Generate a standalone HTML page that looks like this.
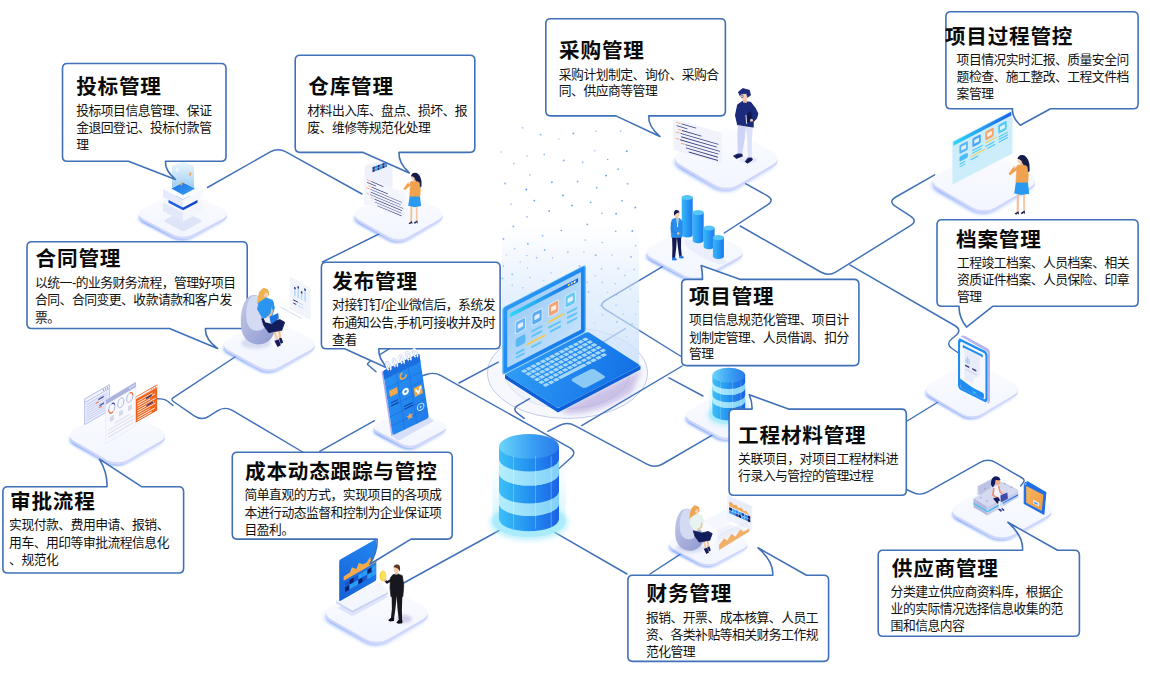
<!DOCTYPE html>
<html lang="zh-CN"><head><meta charset="utf-8"><title>项目管理系统功能总览</title><style>
html,body{margin:0;padding:0;background:#fff}
body{width:1150px;height:679px;overflow:hidden;position:relative;font-family:"Liberation Sans","Noto Sans CJK SC",sans-serif}
svg{position:absolute;left:0;top:0;display:block}
.t{font-family:"Liberation Sans","Noto Sans CJK SC",sans-serif;font-weight:700;font-size:20.6px;letter-spacing:.8px;fill:#0a0a0a}
.b{font-family:"Liberation Sans","Noto Sans CJK SC",sans-serif;font-weight:400;font-size:12.8px;letter-spacing:-.5px;fill:#111}
</style></head>
<body>
<svg width="1150" height="679" viewBox="0 0 1150 679">
<defs>
<filter id="blur3" x="-20%" y="-20%" width="140%" height="160%"><feGaussianBlur stdDeviation="2.2"/></filter>
<filter id="blur6" x="-30%" y="-30%" width="160%" height="160%"><feGaussianBlur stdDeviation="5"/></filter>
<filter id="blurp" x="-1" y="-1" width="4" height="4"><feGaussianBlur stdDeviation=".06"/></filter>
<linearGradient id="gglow" x1="0" y1="1" x2="1" y2="0"><stop offset="0" stop-color="#3f7df7" stop-opacity=".75"/><stop offset=".5" stop-color="#4f86f7" stop-opacity=".55"/><stop offset="1" stop-color="#6f95f7" stop-opacity=".25"/></linearGradient>
<linearGradient id="gtop" x1="0" y1="0" x2="1" y2="1"><stop offset="0" stop-color="#fbfcff"/><stop offset="1" stop-color="#f1f5fe"/></linearGradient>
<linearGradient id="gside" x1="0" y1="0" x2="1" y2="1"><stop offset="0" stop-color="#c6cdf8"/><stop offset="1" stop-color="#d3d9fb"/></linearGradient>
<filter id="blur2" x="-30%" y="-30%" width="160%" height="160%"><feGaussianBlur stdDeviation="2.5"/></filter>
<linearGradient id="gbeam" gradientUnits="userSpaceOnUse" x1="0" y1="225" x2="0" y2="400"><stop offset="0" stop-color="#d6e7fc" stop-opacity="0"/><stop offset=".35" stop-color="#d6e7fc" stop-opacity=".55"/><stop offset="1" stop-color="#c6defb" stop-opacity=".95"/></linearGradient>
<linearGradient id="gbase" x1="0" y1="0" x2="1" y2="1"><stop offset="0" stop-color="#2f9cf6"/><stop offset="1" stop-color="#1270e6"/></linearGradient>
<linearGradient id="glid" x1="0" y1="0" x2="1" y2="1"><stop offset="0" stop-color="#2a9af6"/><stop offset="1" stop-color="#1478ea"/></linearGradient>
<linearGradient id="gscreen" x1="0" y1="0" x2="1" y2="1"><stop offset="0" stop-color="#9ccbf7"/><stop offset="1" stop-color="#c2e1fb"/></linearGradient>
<linearGradient id="gdbs" x1="0" y1="0" x2="1" y2="0"><stop offset="0" stop-color="#3cc0f8"/><stop offset=".5" stop-color="#2392f0"/><stop offset="1" stop-color="#1c62e6"/></linearGradient>
<linearGradient id="gdbt" x1="0" y1="0" x2="1" y2="0"><stop offset="0" stop-color="#6ad6fb"/><stop offset=".55" stop-color="#3a9ff3"/><stop offset="1" stop-color="#2a7bea"/></linearGradient>
<linearGradient id="gdbg" x1="0" y1="0" x2="1" y2="0"><stop offset="0" stop-color="#b4eefd"/><stop offset="1" stop-color="#7fd0f9"/></linearGradient>
<linearGradient id="gglass" x1="0" y1="0" x2="0" y2="1"><stop offset="0" stop-color="#bff0fd" stop-opacity="0"/><stop offset="1" stop-color="#a5eafc" stop-opacity=".6"/></linearGradient>
<filter id="blur1" x="-30%" y="-30%" width="160%" height="160%"><feGaussianBlur stdDeviation="1.5"/></filter>
<linearGradient id="gmon" x1="0" y1="1" x2="1" y2="0"><stop offset="0" stop-color="#1560d6"/><stop offset="1" stop-color="#2486f0"/></linearGradient>
<linearGradient id="gnote" x1="0" y1="0" x2="1" y2="1"><stop offset="0" stop-color="#2a92f4"/><stop offset="1" stop-color="#1f7deb"/></linearGradient><linearGradient id="gbar" x1="0" y1="0" x2="1" y2="0"><stop offset="0" stop-color="#38b8f8"/><stop offset="1" stop-color="#187af0"/></linearGradient><linearGradient id="gp4bar" x1="0" y1="0" x2="1" y2="0"><stop offset="0" stop-color="#2fd6f6"/><stop offset="1" stop-color="#1b62e8"/></linearGradient><linearGradient id="gbean" x1="0" y1="0" x2="1" y2="1"><stop offset="0" stop-color="#c3cae9"/><stop offset="1" stop-color="#8e98cf"/></linearGradient><linearGradient id="gstripe" x1="0" y1="0" x2="1" y2="0"><stop offset="0" stop-color="#35c8f2"/><stop offset="1" stop-color="#2563e6"/></linearGradient>
<linearGradient id="gorange" x1="0" y1="0" x2="1" y2="1"><stop offset="0" stop-color="#f7b661"/><stop offset="1" stop-color="#ef9a45"/></linearGradient>
<linearGradient id="gp1" x1="0" y1="0" x2="1" y2="1"><stop offset="0" stop-color="#1a6fe6"/><stop offset="1" stop-color="#3aa0f4"/></linearGradient>
<linearGradient id="gholo" x1="0" y1="0" x2="0" y2="1"><stop offset="0" stop-color="#d9ecfb" stop-opacity=".55"/><stop offset="1" stop-color="#8cc6f2" stop-opacity=".9"/></linearGradient>
</defs>
<g id="bg"><g fill="#4d92ec"><circle cx="563.0" cy="195.4" r="0.9" opacity="0.95"/><circle cx="627.6" cy="183.7" r="1.0" opacity="0.60"/><circle cx="526.3" cy="189.5" r="0.9" opacity="0.95"/><circle cx="587.3" cy="224.3" r="0.9" opacity="0.80"/><circle cx="513.9" cy="163.6" r="0.8" opacity="0.67"/><circle cx="513.4" cy="226.4" r="1.0" opacity="0.67"/><circle cx="596.0" cy="131.2" r="0.8" opacity="0.59"/><circle cx="635.6" cy="245.6" r="0.8" opacity="0.71"/><circle cx="590.6" cy="202.3" r="0.9" opacity="0.80"/><circle cx="522.6" cy="127.9" r="0.8" opacity="0.58"/><circle cx="573.4" cy="133.4" r="0.9" opacity="0.85"/><circle cx="527.1" cy="156.0" r="0.7" opacity="0.63"/><circle cx="505.1" cy="183.5" r="1.0" opacity="0.61"/><circle cx="561.4" cy="230.5" r="0.8" opacity="1.00"/><circle cx="572.1" cy="205.4" r="1.0" opacity="0.77"/><circle cx="563.7" cy="160.5" r="1.0" opacity="0.71"/><circle cx="616.1" cy="213.8" r="1.0" opacity="0.80"/><circle cx="544.2" cy="154.5" r="0.8" opacity="0.80"/><circle cx="540.6" cy="134.7" r="0.9" opacity="0.67"/><circle cx="606.0" cy="175.6" r="0.9" opacity="0.94"/><circle cx="632.3" cy="231.1" r="1.0" opacity="0.81"/><circle cx="501.1" cy="152.0" r="0.7" opacity="0.63"/><circle cx="511.0" cy="204.1" r="0.7" opacity="0.98"/><circle cx="607.7" cy="159.5" r="0.7" opacity="0.85"/><circle cx="577.6" cy="181.5" r="0.9" opacity="0.71"/><circle cx="527.1" cy="216.8" r="0.9" opacity="0.58"/><circle cx="542.7" cy="235.7" r="1.0" opacity="0.55"/><circle cx="529.9" cy="174.9" r="0.8" opacity="0.58"/><circle cx="514.7" cy="248.7" r="0.9" opacity="0.55"/><circle cx="534.3" cy="200.6" r="0.9" opacity="0.91"/><circle cx="551.9" cy="182.2" r="1.0" opacity="0.73"/><circle cx="602.3" cy="242.6" r="0.7" opacity="0.97"/><circle cx="527.9" cy="243.8" r="1.0" opacity="0.73"/><circle cx="621.9" cy="200.8" r="1.0" opacity="0.66"/><circle cx="558.7" cy="138.9" r="0.7" opacity="0.55"/><circle cx="582.7" cy="162.4" r="0.8" opacity="0.65"/><circle cx="626.7" cy="151.3" r="1.0" opacity="0.88"/><circle cx="635.3" cy="207.5" r="0.9" opacity="0.91"/><circle cx="503.5" cy="238.9" r="0.9" opacity="0.83"/><circle cx="544.7" cy="249.9" r="1.0" opacity="0.71"/><circle cx="602.0" cy="213.3" r="0.9" opacity="0.58"/><circle cx="549.2" cy="211.0" r="0.9" opacity="0.82"/><circle cx="596.7" cy="187.7" r="0.9" opacity="0.70"/><circle cx="585.2" cy="240.1" r="0.8" opacity="0.65"/><circle cx="615.7" cy="231.2" r="0.8" opacity="0.80"/><circle cx="620.6" cy="131.1" r="0.8" opacity="0.63"/><circle cx="594.8" cy="150.7" r="0.7" opacity="0.62"/><circle cx="618.2" cy="169.2" r="0.9" opacity="0.71"/><circle cx="512.3" cy="285.3" r="1.0" opacity="0.56"/><circle cx="576.4" cy="311.5" r="1.0" opacity="0.78"/><circle cx="567.8" cy="252.3" r="1.0" opacity="0.59"/><circle cx="611.9" cy="255.1" r="0.8" opacity="0.56"/><circle cx="546.9" cy="313.0" r="0.8" opacity="0.69"/><circle cx="520.2" cy="261.9" r="0.7" opacity="0.81"/><circle cx="616.1" cy="305.1" r="0.9" opacity="0.74"/><circle cx="630.6" cy="289.4" r="0.8" opacity="0.77"/><circle cx="631.0" cy="256.9" r="0.8" opacity="0.92"/><circle cx="531.3" cy="292.1" r="0.7" opacity="0.85"/><circle cx="588.5" cy="291.8" r="0.9" opacity="0.95"/><circle cx="616.6" cy="294.8" r="0.9" opacity="0.79"/><circle cx="543.7" cy="280.5" r="0.7" opacity="0.62"/><circle cx="616.8" cy="322.0" r="1.0" opacity="0.96"/><circle cx="529.5" cy="318.1" r="0.7" opacity="0.65"/><circle cx="579.5" cy="266.1" r="0.9" opacity="0.95"/><circle cx="574.4" cy="290.3" r="1.0" opacity="0.78"/><circle cx="583.9" cy="252.2" r="0.7" opacity="0.60"/><circle cx="555.9" cy="314.1" r="1.0" opacity="0.75"/><circle cx="595.7" cy="255.3" r="1.0" opacity="0.74"/><circle cx="632.1" cy="323.9" r="1.0" opacity="0.78"/><circle cx="566.3" cy="275.4" r="1.0" opacity="0.82"/><circle cx="527.6" cy="268.2" r="0.7" opacity="0.78"/><circle cx="595.1" cy="275.8" r="0.7" opacity="0.79"/><circle cx="549.7" cy="299.6" r="1.0" opacity="0.75"/><circle cx="515.4" cy="308.5" r="0.7" opacity="0.82"/><circle cx="552.5" cy="283.1" r="0.9" opacity="0.62"/><circle cx="618.4" cy="268.6" r="1.0" opacity="0.70"/><circle cx="602.5" cy="314.8" r="0.9" opacity="0.88"/><circle cx="624.7" cy="275.3" r="0.9" opacity="0.63"/><circle cx="544.2" cy="323.8" r="1.0" opacity="1.00"/><circle cx="530.9" cy="329.9" r="1.0" opacity="0.57"/><circle cx="533.8" cy="308.1" r="0.8" opacity="0.89"/><circle cx="536.6" cy="257.8" r="1.0" opacity="0.60"/><circle cx="615.0" cy="283.7" r="0.8" opacity="0.93"/><circle cx="503.4" cy="266.1" r="0.8" opacity="0.92"/><circle cx="594.5" cy="322.9" r="0.7" opacity="0.78"/><circle cx="569.9" cy="304.9" r="0.9" opacity="0.58"/><circle cx="526.9" cy="255.6" r="0.7" opacity="0.87"/><circle cx="509.5" cy="326.1" r="0.9" opacity="0.78"/><circle cx="602.3" cy="282.4" r="0.9" opacity="0.75"/><circle cx="623.4" cy="314.1" r="0.7" opacity="0.94"/><circle cx="587.2" cy="282.4" r="0.8" opacity="0.77"/><circle cx="635.6" cy="314.4" r="0.8" opacity="0.58"/><circle cx="502.5" cy="278.5" r="1.0" opacity="0.90"/><circle cx="574.0" cy="281.2" r="1.0" opacity="0.94"/><circle cx="638.0" cy="301.4" r="0.7" opacity="0.91"/><circle cx="585.3" cy="309.1" r="0.7" opacity="0.90"/><circle cx="552.5" cy="257.9" r="0.7" opacity="0.91"/><circle cx="522.9" cy="287.7" r="0.8" opacity="0.92"/><circle cx="551.1" cy="272.9" r="0.8" opacity="0.60"/><circle cx="634.3" cy="269.5" r="0.7" opacity="0.97"/><circle cx="572.7" cy="325.0" r="0.8" opacity="0.93"/><circle cx="607.6" cy="292.5" r="0.7" opacity="0.74"/><circle cx="601.6" cy="269.1" r="1.0" opacity="0.56"/><circle cx="582.1" cy="300.6" r="1.0" opacity="0.96"/><circle cx="506.4" cy="254.9" r="0.7" opacity="0.59"/><circle cx="529.9" cy="277.5" r="0.8" opacity="0.79"/><circle cx="512.2" cy="274.3" r="0.9" opacity="0.94"/><circle cx="600.3" cy="305.5" r="0.8" opacity="0.80"/><circle cx="539.8" cy="340.7" r="1.0" opacity="0.72"/><circle cx="550.0" cy="384.4" r="0.9" opacity="0.86"/><circle cx="551.2" cy="338.8" r="0.9" opacity="0.85"/><circle cx="598.2" cy="372.7" r="0.8" opacity="0.86"/><circle cx="626.1" cy="362.8" r="0.8" opacity="0.89"/><circle cx="611.0" cy="352.9" r="0.8" opacity="0.86"/><circle cx="544.5" cy="360.0" r="1.0" opacity="0.57"/><circle cx="535.0" cy="357.1" r="0.9" opacity="0.60"/><circle cx="555.2" cy="359.1" r="0.9" opacity="0.82"/><circle cx="527.7" cy="372.3" r="0.9" opacity="0.69"/><circle cx="610.2" cy="370.5" r="0.7" opacity="1.00"/><circle cx="525.2" cy="386.9" r="0.8" opacity="0.88"/><circle cx="621.7" cy="351.1" r="0.9" opacity="0.94"/><circle cx="504.0" cy="368.7" r="1.0" opacity="0.64"/><circle cx="575.5" cy="372.6" r="0.7" opacity="0.83"/><circle cx="611.2" cy="334.8" r="1.0" opacity="0.72"/><circle cx="575.9" cy="389.1" r="1.0" opacity="0.68"/><circle cx="512.5" cy="336.1" r="0.8" opacity="0.78"/><circle cx="512.6" cy="377.6" r="0.7" opacity="0.71"/><circle cx="589.9" cy="348.4" r="1.0" opacity="0.66"/><circle cx="599.8" cy="383.1" r="0.7" opacity="0.68"/><circle cx="610.9" cy="361.6" r="0.9" opacity="0.98"/><circle cx="541.0" cy="402.7" r="0.7" opacity="0.85"/><circle cx="509.1" cy="353.1" r="1.0" opacity="0.65"/><circle cx="607.3" cy="343.5" r="1.0" opacity="0.72"/><circle cx="526.3" cy="346.3" r="1.0" opacity="0.82"/><circle cx="533.3" cy="383.8" r="1.0" opacity="0.84"/><circle cx="543.7" cy="371.1" r="0.9" opacity="0.74"/><circle cx="567.1" cy="346.6" r="0.9" opacity="0.81"/><circle cx="507.8" cy="401.1" r="0.9" opacity="0.68"/><circle cx="545.1" cy="349.5" r="0.7" opacity="0.85"/><circle cx="620.1" cy="368.7" r="0.8" opacity="0.56"/><circle cx="501.2" cy="391.6" r="0.9" opacity="0.61"/><circle cx="599.2" cy="337.3" r="0.9" opacity="0.72"/><circle cx="566.8" cy="365.1" r="0.9" opacity="0.70"/><circle cx="626.6" cy="336.8" r="0.7" opacity="0.80"/><circle cx="565.0" cy="383.6" r="0.7" opacity="0.75"/><circle cx="515.5" cy="359.6" r="0.8" opacity="0.59"/><circle cx="564.3" cy="402.5" r="0.9" opacity="0.56"/><circle cx="502.7" cy="358.3" r="0.7" opacity="0.88"/><circle cx="598.3" cy="347.8" r="0.9" opacity="1.00"/><circle cx="578.3" cy="364.4" r="0.7" opacity="0.85"/><circle cx="552.5" cy="370.5" r="0.8" opacity="0.76"/><circle cx="525.6" cy="360.2" r="0.9" opacity="0.63"/><circle cx="557.5" cy="331.2" r="0.9" opacity="0.77"/><circle cx="528.0" cy="400.9" r="0.7" opacity="0.99"/><circle cx="518.0" cy="403.0" r="0.7" opacity="1.00"/><circle cx="577.8" cy="349.8" r="1.0" opacity="0.75"/><circle cx="517.8" cy="391.8" r="0.8" opacity="0.84"/><circle cx="576.1" cy="335.7" r="0.7" opacity="1.00"/><circle cx="505.4" cy="343.5" r="0.7" opacity="1.00"/><circle cx="588.9" cy="332.8" r="1.0" opacity="0.91"/><circle cx="586.5" cy="381.7" r="0.8" opacity="0.78"/><circle cx="558.7" cy="390.4" r="0.8" opacity="0.77"/><circle cx="518.0" cy="370.3" r="0.8" opacity="0.78"/><circle cx="538.9" cy="378.0" r="0.7" opacity="0.88"/><circle cx="636.3" cy="332.5" r="0.7" opacity="0.55"/><circle cx="553.7" cy="399.7" r="0.9" opacity="0.85"/><circle cx="521.0" cy="353.3" r="1.0" opacity="0.90"/><circle cx="586.1" cy="369.4" r="0.7" opacity="0.74"/><circle cx="636.1" cy="340.8" r="0.8" opacity="0.56"/><circle cx="595.7" cy="357.2" r="0.9" opacity="0.98"/><circle cx="555.0" cy="347.9" r="0.7" opacity="0.60"/><circle cx="504.4" cy="377.3" r="1.0" opacity="0.79"/><circle cx="634.7" cy="352.4" r="0.7" opacity="0.90"/><circle cx="538.8" cy="392.2" r="0.7" opacity="0.69"/><circle cx="535.8" cy="368.1" r="0.7" opacity="0.58"/><circle cx="587.5" cy="359.8" r="0.8" opacity="0.61"/><circle cx="546.2" cy="332.0" r="0.7" opacity="0.78"/><circle cx="525.0" cy="338.0" r="0.9" opacity="0.68"/></g><ellipse cx="567.5" cy="373" rx="80" ry="45.5" fill="#f6f8fe" stroke="#c3cde6" stroke-width="1"/><ellipse cx="567.5" cy="374" rx="62" ry="34.5" fill="#f0f3fc" stroke="#d3daee" stroke-width=".8"/></g>
<g id="lines"><path d="M207.5 187.5L270.2 151.9Q278.0 147.5 285.9 151.9L362.0 194.0" fill="none" stroke="#4071b8" stroke-width="1.45" stroke-linejoin="round" stroke-linecap="round"/>
<path d="M385.0 231.0L322.5 262.0" fill="none" stroke="#4071b8" stroke-width="1.45" stroke-linejoin="round" stroke-linecap="round"/>
<path d="M238.0 355.0L173.4 397.6Q170.5 399.5 173.4 401.5L194.2 415.9Q201.6 421.0 209.2 416.1L217.4 410.9Q225.0 406.0 232.7 410.6L302.6 452.0" fill="none" stroke="#4071b8" stroke-width="1.45" stroke-linejoin="round" stroke-linecap="round"/>
<path d="M157.0 398.8L161.0 398.9Q165.0 399.0 168.1 401.5L173.0 405.5" fill="none" stroke="#4071b8" stroke-width="1.45" stroke-linejoin="round" stroke-linecap="round"/>
<path d="M374.5 420.7L319.7 451.4" fill="none" stroke="#4071b8" stroke-width="1.45" stroke-linejoin="round" stroke-linecap="round"/>
<path d="M420.0 376.5L427.2 374.2Q434.5 372.0 441.1 375.7L569.6 447.6Q577.5 452.0 570.8 458.0L558.5 469.0" fill="none" stroke="#4071b8" stroke-width="1.45" stroke-linejoin="round" stroke-linecap="round"/>
<path d="M459.0 383.0L498.3 362.2" fill="none" stroke="#4071b8" stroke-width="1.45" stroke-linejoin="round" stroke-linecap="round"/>
<path d="M529.6 398.7L518.4 405.1Q511.5 409.0 517.9 413.6L524.3 418.3" fill="none" stroke="#4071b8" stroke-width="1.45" stroke-linejoin="round" stroke-linecap="round"/>
<path d="M547.8 431.3L559.4 425.5Q567.4 421.5 575.3 425.8L646.9 464.2Q654.8 468.5 662.6 464.0L712.2 435.2" fill="none" stroke="#4071b8" stroke-width="1.45" stroke-linejoin="round" stroke-linecap="round"/>
<path d="M581.7 425.6L682.2 366.0" fill="none" stroke="#4071b8" stroke-width="1.45" stroke-linejoin="round" stroke-linecap="round"/>
<path d="M669.0 377.8L703.0 396.0" fill="none" stroke="#4071b8" stroke-width="1.45" stroke-linejoin="round" stroke-linecap="round"/>
<path d="M662.5 266.6L605.7 300.4Q598.0 305.0 605.7 309.7L682.0 357.0" fill="none" stroke="#4071b8" stroke-width="1.45" stroke-linejoin="round" stroke-linecap="round"/>
<path d="M625.4 328.5L602.4 342.6" fill="none" stroke="#4071b8" stroke-width="1.45" stroke-linejoin="round" stroke-linecap="round"/>
<path d="M745.5 183.6L767.1 195.6Q775.0 200.0 767.5 204.9L724.3 233.0" fill="none" stroke="#4071b8" stroke-width="1.45" stroke-linejoin="round" stroke-linecap="round"/>
<path d="M740.2 226.0L820.7 272.0Q828.5 276.5 836.1 271.8L910.4 225.7Q918.0 221.0 910.5 216.1L895.5 206.4Q888.0 201.5 895.8 197.0L934.6 174.8" fill="none" stroke="#4071b8" stroke-width="1.45" stroke-linejoin="round" stroke-linecap="round"/>
<path d="M849.8 264.9L954.7 325.5Q962.5 330.0 955.6 335.7L951.6 339.0Q945.5 344.0 952.0 348.5L958.5 353.0" fill="none" stroke="#4071b8" stroke-width="1.45" stroke-linejoin="round" stroke-linecap="round"/>
<path d="M937.3 402.5L905.5 422.0" fill="none" stroke="#4071b8" stroke-width="1.45" stroke-linejoin="round" stroke-linecap="round"/>
<path d="M905.5 489.0L913.0 492.5Q920.5 496.0 927.7 491.9L980.2 462.4Q988.0 458.0 995.8 462.6L1022.2 478.0Q1025.5 480.0 1023.0 483.0L1020.6 486.0" fill="none" stroke="#4071b8" stroke-width="1.45" stroke-linejoin="round" stroke-linecap="round"/>
<path d="M500.0 530.0L400.0 585.0" fill="none" stroke="#4071b8" stroke-width="1.45" stroke-linejoin="round" stroke-linecap="round"/>
<path d="M550.0 529.6L627.0 574.0" fill="none" stroke="#4071b8" stroke-width="1.45" stroke-linejoin="round" stroke-linecap="round"/>
<path d="M682.7 552.6L650.0 574.0" fill="none" stroke="#4071b8" stroke-width="1.45" stroke-linejoin="round" stroke-linecap="round"/>
<path d="M389.0 348.9L380.7 354.2" fill="none" stroke="#4071b8" stroke-width="1.45" stroke-linejoin="round" stroke-linecap="round"/>
<path d="M370.7 360.6L367.8 363.5Q367.1 364.2 367.9 364.8L376.0 371.8" fill="none" stroke="#4071b8" stroke-width="1.45" stroke-linejoin="round" stroke-linecap="round"/></g>
<g id="plats"><g><rect x="-1" y="-1" width="2" height="2" rx="0.38" transform="matrix(24.01 12.55 -24.01 12.55 182.0 218.5)" fill="url(#gglow)" filter="url(#blurp)"/><rect x="-1" y="-1" width="2" height="2" rx="0.38" transform="matrix(24.76 12.94 -24.76 12.94 183.0 216.3)" fill="url(#gside)"/><rect x="-1" y="-1" width="2" height="2" rx="0.38" transform="matrix(24.76 12.94 -24.76 12.94 183.0 213.8)" fill="url(#gtop)"/></g><g><rect x="-1" y="-1" width="2" height="2" rx="0.38" transform="matrix(24.01 13.64 -24.01 13.64 397.7 219.0)" fill="url(#gglow)" filter="url(#blurp)"/><rect x="-1" y="-1" width="2" height="2" rx="0.38" transform="matrix(24.76 14.07 -24.76 14.07 398.7 216.8)" fill="url(#gside)"/><rect x="-1" y="-1" width="2" height="2" rx="0.38" transform="matrix(24.76 14.07 -24.76 14.07 398.7 214.3)" fill="url(#gtop)"/></g><g><rect x="-1" y="-1" width="2" height="2" rx="0.38" transform="matrix(27.83 16.10 -27.83 16.10 725.5 163.0)" fill="url(#gglow)" filter="url(#blurp)"/><rect x="-1" y="-1" width="2" height="2" rx="0.38" transform="matrix(28.69 16.60 -28.69 16.60 726.5 160.8)" fill="url(#gside)"/><rect x="-1" y="-1" width="2" height="2" rx="0.38" transform="matrix(28.69 16.60 -28.69 16.60 726.5 158.3)" fill="url(#gtop)"/></g><g><rect x="-1" y="-1" width="2" height="2" rx="0.38" transform="matrix(27.83 16.10 -27.83 16.10 983.0 185.5)" fill="url(#gglow)" filter="url(#blurp)"/><rect x="-1" y="-1" width="2" height="2" rx="0.38" transform="matrix(28.69 16.60 -28.69 16.60 984.0 183.3)" fill="url(#gside)"/><rect x="-1" y="-1" width="2" height="2" rx="0.38" transform="matrix(28.69 16.60 -28.69 16.60 984.0 180.8)" fill="url(#gtop)"/></g><g><rect x="-1" y="-1" width="2" height="2" rx="0.38" transform="matrix(24.83 13.64 -24.83 13.64 268.3 349.0)" fill="url(#gglow)" filter="url(#blurp)"/><rect x="-1" y="-1" width="2" height="2" rx="0.38" transform="matrix(25.60 14.07 -25.60 14.07 269.3 346.8)" fill="url(#gside)"/><rect x="-1" y="-1" width="2" height="2" rx="0.38" transform="matrix(25.60 14.07 -25.60 14.07 269.3 344.3)" fill="url(#gtop)"/></g><g><rect x="-1" y="-1" width="2" height="2" rx="0.38" transform="matrix(19.65 10.37 -19.65 10.37 409.0 431.5)" fill="url(#gglow)" filter="url(#blurp)"/><rect x="-1" y="-1" width="2" height="2" rx="0.38" transform="matrix(20.26 10.69 -20.26 10.69 410.0 429.3)" fill="url(#gside)"/><rect x="-1" y="-1" width="2" height="2" rx="0.38" transform="matrix(20.26 10.69 -20.26 10.69 410.0 426.8)" fill="url(#gtop)"/></g><g><rect x="-1" y="-1" width="2" height="2" rx="0.38" transform="matrix(26.20 14.19 -26.20 14.19 693.7 256.5)" fill="url(#gglow)" filter="url(#blurp)"/><rect x="-1" y="-1" width="2" height="2" rx="0.38" transform="matrix(27.01 14.63 -27.01 14.63 694.7 254.3)" fill="url(#gside)"/><rect x="-1" y="-1" width="2" height="2" rx="0.38" transform="matrix(27.01 14.63 -27.01 14.63 694.7 251.8)" fill="url(#gtop)"/></g><g><rect x="-1" y="-1" width="2" height="2" rx="0.38" transform="matrix(25.11 14.74 -25.11 14.74 971.0 393.4)" fill="url(#gglow)" filter="url(#blurp)"/><rect x="-1" y="-1" width="2" height="2" rx="0.38" transform="matrix(25.88 15.19 -25.88 15.19 972.0 391.2)" fill="url(#gside)"/><rect x="-1" y="-1" width="2" height="2" rx="0.38" transform="matrix(25.88 15.19 -25.88 15.19 972.0 389.3)" fill="url(#gtop)"/></g><g><rect x="-1" y="-1" width="2" height="2" rx="0.38" transform="matrix(25.92 14.74 -25.92 14.74 116.5 440.0)" fill="url(#gglow)" filter="url(#blurp)"/><rect x="-1" y="-1" width="2" height="2" rx="0.38" transform="matrix(26.73 15.19 -26.73 15.19 117.5 437.8)" fill="url(#gside)"/><rect x="-1" y="-1" width="2" height="2" rx="0.38" transform="matrix(26.73 15.19 -26.73 15.19 117.5 435.3)" fill="url(#gtop)"/></g><g><rect x="-1" y="-1" width="2" height="2" rx="0.38" transform="matrix(27.83 15.83 -27.83 15.83 376.0 617.5)" fill="url(#gglow)" filter="url(#blurp)"/><rect x="-1" y="-1" width="2" height="2" rx="0.38" transform="matrix(28.69 16.32 -28.69 16.32 377.0 615.3)" fill="url(#gside)"/><rect x="-1" y="-1" width="2" height="2" rx="0.38" transform="matrix(28.69 16.32 -28.69 16.32 377.0 612.8)" fill="url(#gtop)"/></g><g><rect x="-1" y="-1" width="2" height="2" rx="0.38" transform="matrix(22.38 12.55 -22.38 12.55 726.0 419.5)" fill="url(#gglow)" filter="url(#blurp)"/><rect x="-1" y="-1" width="2" height="2" rx="0.38" transform="matrix(23.07 12.94 -23.07 12.94 727.0 417.3)" fill="url(#gside)"/><rect x="-1" y="-1" width="2" height="2" rx="0.38" transform="matrix(23.07 12.94 -23.07 12.94 727.0 414.8)" fill="url(#gtop)"/></g><g><rect x="-1" y="-1" width="2" height="2" rx="0.38" transform="matrix(21.28 11.19 -21.28 11.19 707.5 547.9)" fill="url(#gglow)" filter="url(#blurp)"/><rect x="-1" y="-1" width="2" height="2" rx="0.38" transform="matrix(21.94 11.53 -21.94 11.53 708.5 545.7)" fill="url(#gside)"/><rect x="-1" y="-1" width="2" height="2" rx="0.38" transform="matrix(21.94 11.53 -21.94 11.53 708.5 543.8)" fill="url(#gtop)"/></g><g><rect x="-1" y="-1" width="2" height="2" rx="0.38" transform="matrix(27.02 14.74 -27.02 14.74 1001.0 515.0)" fill="url(#gglow)" filter="url(#blurp)"/><rect x="-1" y="-1" width="2" height="2" rx="0.38" transform="matrix(27.85 15.19 -27.85 15.19 1002.0 512.8)" fill="url(#gside)"/><rect x="-1" y="-1" width="2" height="2" rx="0.38" transform="matrix(27.85 15.19 -27.85 15.19 1002.0 510.3)" fill="url(#gtop)"/></g></g>
<g id="icons-under"><path d="M502 372 L502 225 L639 225 L639 366 L560 410Z" fill="url(#gbeam)"/><path d="M560 411 L642 369 L632 392 Q600 414 566 414Z" fill="#9f86cf" opacity=".45" filter="url(#blur2)"/><path d="M505 374.3 L558 408.2 L640.5 365.5 L640.5 369.5 L558 412.5 L505 378.5Z" fill="#0d5fd6"/><g transform="matrix(.825 -.427 .53 .339 505 374.3)"><rect x="0" y="0" width="100" height="100" rx="3" fill="url(#gbase)"/><rect x="14.0" y="8.0" width="4.6" height="5.8" rx=".8" fill="#a5d8f8"/><rect x="19.7" y="8.0" width="4.6" height="5.8" rx=".8" fill="#a5d8f8"/><rect x="25.4" y="8.0" width="4.6" height="5.8" rx=".8" fill="#a5d8f8"/><rect x="31.1" y="8.0" width="4.6" height="5.8" rx=".8" fill="#a5d8f8"/><rect x="36.8" y="8.0" width="4.6" height="5.8" rx=".8" fill="#a5d8f8"/><rect x="42.5" y="8.0" width="4.6" height="5.8" rx=".8" fill="#a5d8f8"/><rect x="48.2" y="8.0" width="4.6" height="5.8" rx=".8" fill="#a5d8f8"/><rect x="53.9" y="8.0" width="4.6" height="5.8" rx=".8" fill="#a5d8f8"/><rect x="59.6" y="8.0" width="4.6" height="5.8" rx=".8" fill="#a5d8f8"/><rect x="65.3" y="8.0" width="4.6" height="5.8" rx=".8" fill="#a5d8f8"/><rect x="71.0" y="8.0" width="4.6" height="5.8" rx=".8" fill="#a5d8f8"/><rect x="76.7" y="8.0" width="4.6" height="5.8" rx=".8" fill="#a5d8f8"/><rect x="82.4" y="8.0" width="4.6" height="5.8" rx=".8" fill="#a5d8f8"/><rect x="88.1" y="8.0" width="4.6" height="5.8" rx=".8" fill="#a5d8f8"/><rect x="14.0" y="16.2" width="4.6" height="5.8" rx=".8" fill="#a5d8f8"/><rect x="19.7" y="16.2" width="4.6" height="5.8" rx=".8" fill="#a5d8f8"/><rect x="25.4" y="16.2" width="4.6" height="5.8" rx=".8" fill="#a5d8f8"/><rect x="31.1" y="16.2" width="4.6" height="5.8" rx=".8" fill="#a5d8f8"/><rect x="36.8" y="16.2" width="4.6" height="5.8" rx=".8" fill="#a5d8f8"/><rect x="42.5" y="16.2" width="4.6" height="5.8" rx=".8" fill="#a5d8f8"/><rect x="48.2" y="16.2" width="4.6" height="5.8" rx=".8" fill="#a5d8f8"/><rect x="53.9" y="16.2" width="4.6" height="5.8" rx=".8" fill="#a5d8f8"/><rect x="59.6" y="16.2" width="4.6" height="5.8" rx=".8" fill="#a5d8f8"/><rect x="65.3" y="16.2" width="4.6" height="5.8" rx=".8" fill="#a5d8f8"/><rect x="71.0" y="16.2" width="4.6" height="5.8" rx=".8" fill="#a5d8f8"/><rect x="76.7" y="16.2" width="4.6" height="5.8" rx=".8" fill="#a5d8f8"/><rect x="82.4" y="16.2" width="4.6" height="5.8" rx=".8" fill="#a5d8f8"/><rect x="88.1" y="16.2" width="4.6" height="5.8" rx=".8" fill="#a5d8f8"/><rect x="14.0" y="24.4" width="4.6" height="5.8" rx=".8" fill="#a5d8f8"/><rect x="19.7" y="24.4" width="4.6" height="5.8" rx=".8" fill="#a5d8f8"/><rect x="25.4" y="24.4" width="4.6" height="5.8" rx=".8" fill="#a5d8f8"/><rect x="31.1" y="24.4" width="4.6" height="5.8" rx=".8" fill="#a5d8f8"/><rect x="36.8" y="24.4" width="4.6" height="5.8" rx=".8" fill="#a5d8f8"/><rect x="42.5" y="24.4" width="4.6" height="5.8" rx=".8" fill="#a5d8f8"/><rect x="48.2" y="24.4" width="4.6" height="5.8" rx=".8" fill="#a5d8f8"/><rect x="53.9" y="24.4" width="4.6" height="5.8" rx=".8" fill="#a5d8f8"/><rect x="59.6" y="24.4" width="4.6" height="5.8" rx=".8" fill="#a5d8f8"/><rect x="65.3" y="24.4" width="4.6" height="5.8" rx=".8" fill="#a5d8f8"/><rect x="71.0" y="24.4" width="4.6" height="5.8" rx=".8" fill="#a5d8f8"/><rect x="76.7" y="24.4" width="4.6" height="5.8" rx=".8" fill="#a5d8f8"/><rect x="82.4" y="24.4" width="4.6" height="5.8" rx=".8" fill="#a5d8f8"/><rect x="88.1" y="24.4" width="4.6" height="5.8" rx=".8" fill="#a5d8f8"/><rect x="14.0" y="32.6" width="4.6" height="5.8" rx=".8" fill="#a5d8f8"/><rect x="19.7" y="32.6" width="4.6" height="5.8" rx=".8" fill="#a5d8f8"/><rect x="25.4" y="32.6" width="4.6" height="5.8" rx=".8" fill="#a5d8f8"/><rect x="31.1" y="32.6" width="4.6" height="5.8" rx=".8" fill="#a5d8f8"/><rect x="36.8" y="32.6" width="4.6" height="5.8" rx=".8" fill="#a5d8f8"/><rect x="42.5" y="32.6" width="4.6" height="5.8" rx=".8" fill="#a5d8f8"/><rect x="48.2" y="32.6" width="4.6" height="5.8" rx=".8" fill="#a5d8f8"/><rect x="53.9" y="32.6" width="4.6" height="5.8" rx=".8" fill="#a5d8f8"/><rect x="59.6" y="32.6" width="4.6" height="5.8" rx=".8" fill="#a5d8f8"/><rect x="65.3" y="32.6" width="4.6" height="5.8" rx=".8" fill="#a5d8f8"/><rect x="71.0" y="32.6" width="4.6" height="5.8" rx=".8" fill="#a5d8f8"/><rect x="76.7" y="32.6" width="4.6" height="5.8" rx=".8" fill="#a5d8f8"/><rect x="82.4" y="32.6" width="4.6" height="5.8" rx=".8" fill="#a5d8f8"/><rect x="88.1" y="32.6" width="4.6" height="5.8" rx=".8" fill="#a5d8f8"/><rect x="14.0" y="40.8" width="4.6" height="5.8" rx=".8" fill="#a5d8f8"/><rect x="19.7" y="40.8" width="4.6" height="5.8" rx=".8" fill="#a5d8f8"/><rect x="25.4" y="40.8" width="4.6" height="5.8" rx=".8" fill="#a5d8f8"/><rect x="31.1" y="40.8" width="4.6" height="5.8" rx=".8" fill="#a5d8f8"/><rect x="36.8" y="40.8" width="4.6" height="5.8" rx=".8" fill="#a5d8f8"/><rect x="42.5" y="40.8" width="4.6" height="5.8" rx=".8" fill="#a5d8f8"/><rect x="48.2" y="40.8" width="4.6" height="5.8" rx=".8" fill="#a5d8f8"/><rect x="53.9" y="40.8" width="4.6" height="5.8" rx=".8" fill="#a5d8f8"/><rect x="59.6" y="40.8" width="4.6" height="5.8" rx=".8" fill="#a5d8f8"/><rect x="65.3" y="40.8" width="4.6" height="5.8" rx=".8" fill="#a5d8f8"/><rect x="71.0" y="40.8" width="4.6" height="5.8" rx=".8" fill="#a5d8f8"/><rect x="76.7" y="40.8" width="4.6" height="5.8" rx=".8" fill="#a5d8f8"/><rect x="82.4" y="40.8" width="4.6" height="5.8" rx=".8" fill="#a5d8f8"/><rect x="88.1" y="40.8" width="4.6" height="5.8" rx=".8" fill="#a5d8f8"/><rect x="14.0" y="49.0" width="5.0" height="5.8" rx=".8" fill="#a5d8f8"/><rect x="20.1" y="49.0" width="5.0" height="5.8" rx=".8" fill="#a5d8f8"/><rect x="26.2" y="49.0" width="5.0" height="5.8" rx=".8" fill="#a5d8f8"/><rect x="32.3" y="49.0" width="32.0" height="5.8" rx=".8" fill="#a5d8f8"/><rect x="65.4" y="49.0" width="5.0" height="5.8" rx=".8" fill="#a5d8f8"/><rect x="71.5" y="49.0" width="5.0" height="5.8" rx=".8" fill="#a5d8f8"/><rect x="77.6" y="49.0" width="5.0" height="5.8" rx=".8" fill="#a5d8f8"/><rect x="83.7" y="49.0" width="5.0" height="5.8" rx=".8" fill="#a5d8f8"/><rect x="38" y="64" width="27" height="26" rx="4" fill="#8ccaf6"/></g><g transform="matrix(.81 -.42 0 .822 503.6 308)"><rect x="-1.5" y="-1" width="103" height="82" rx="3" fill="#55b4fa"/><rect x="0" y="0" width="100" height="80" rx="2.5" fill="url(#glid)"/><rect x="4.5" y="5" width="91" height="70" rx="1" fill="url(#gscreen)"/><rect x="8" y="10.5" width="84" height="5" rx="1" fill="url(#gp4bar)"/><circle cx="80.5" cy="13" r="1.3" fill="#f6d23f"/><circle cx="84.1" cy="13" r="1.3" fill="#f6d23f"/><circle cx="87.7" cy="13" r="1.3" fill="#f4f8ff"/><rect x="14.0" y="24" width="13.5" height="16" rx="2.5" fill="#eaf4fe" opacity=".8"/><rect x="15.0" y="25" width="11.5" height="14" rx="2" fill="#6cb4f6"/><rect x="17.5" y="29" width="6.5" height="5.5" rx="1" fill="#fff" opacity=".8"/><rect x="34.5" y="24" width="13.5" height="16" rx="2.5" fill="#eaf4fe" opacity=".8"/><rect x="35.5" y="25" width="11.5" height="14" rx="2" fill="#5aa9f5"/><rect x="38.0" y="29" width="6.5" height="5.5" rx="1" fill="#fff" opacity=".8"/><rect x="55.0" y="24" width="13.5" height="16" rx="2.5" fill="#eaf4fe" opacity=".8"/><rect x="56.0" y="25" width="11.5" height="14" rx="2" fill="#f2a476"/><rect x="58.5" y="29" width="6.5" height="5.5" rx="1" fill="#fff" opacity=".8"/><rect x="75.5" y="24" width="13.5" height="16" rx="2.5" fill="#eaf4fe" opacity=".8"/><rect x="76.5" y="25" width="11.5" height="14" rx="2" fill="#6cc9f3"/><rect x="79.0" y="29" width="6.5" height="5.5" rx="1" fill="#fff" opacity=".8"/><rect x="34" y="45" width="14" height="2.6" rx="1.3" fill="#62c4f4"/><rect x="55" y="44" width="20" height="2.6" rx="1.3" fill="#f2cc55"/><rect x="78" y="45" width="13" height="2.6" rx="1.3" fill="#62c4f4"/><rect x="34" y="51" width="14" height="2.6" rx="1.3" fill="#62c4f4"/><rect x="55" y="51" width="16" height="2.6" rx="1.3" fill="#62c4f4"/><rect x="78" y="51" width="13" height="2.6" rx="1.3" fill="#62c4f4"/><rect x="28" y="58" width="24" height="2.6" rx="1.3" fill="#f2cc55"/><rect x="57" y="57" width="14" height="2.6" rx="1.3" fill="#62c4f4"/><rect x="78" y="57" width="13" height="2.6" rx="1.3" fill="#62c4f4"/><rect x="15" y="62" width="11" height="2.6" rx="1.3" fill="#62c4f4"/><rect x="34" y="64" width="13" height="2.6" rx="1.3" fill="#62c4f4"/><rect x="15" y="67" width="11" height="2.6" rx="1.3" fill="#62c4f4"/><rect x="15" y="45" width="12" height="11" rx="2.5" fill="#5bb8f5"/></g><g><ellipse cx="529.0" cy="522.6" rx="39.6" ry="18.0" fill="#8fe6fb" opacity=".55" filter="url(#blur2)"/><ellipse cx="529.0" cy="520.8" rx="36.6" ry="16.1" fill="#a8ecfc" opacity=".8"/><path d="M492.4 459.1 L492.4 520.8 A36.6 16.1 0 0 0 565.6 520.8 L565.6 459.1 Z" fill="url(#gglass)"/><path d="M499.0 503.5 L499.0 518.9 A30.0 12.4 0 0 0 559.0 518.9 L559.0 503.5 Z" fill="url(#gdbs)" /><ellipse cx="529.0" cy="503.5" rx="30.0" ry="12.4" fill="#8fdcfa"/><path d="M499.0 491.1 L499.0 503.5 A30.0 12.4 0 0 0 559.0 503.5 L559.0 491.1 Z" fill="url(#gdbg)" /><path d="M499.0 473.2 L499.0 491.1 A30.0 12.4 0 0 0 559.0 491.1 L559.0 473.2 Z" fill="url(#gdbs)" /><ellipse cx="529.0" cy="473.2" rx="30.0" ry="12.4" fill="#8fdcfa"/><path d="M499.0 459.1 L499.0 473.2 A30.0 12.4 0 0 0 559.0 473.2 L559.0 459.1 Z" fill="url(#gdbg)" /><path d="M499.0 446.4 L499.0 459.1 A30.0 12.4 0 0 0 559.0 459.1 L559.0 446.4 Z" fill="url(#gdbs)" /><ellipse cx="529.0" cy="446.4" rx="30.0" ry="12.4" fill="url(#gdbt)"/><line x1="513.4" y1="456.3" x2="513.4" y2="528.8" stroke="#fff" stroke-width="0.8" opacity=".35"/><line x1="535.6" y1="456.3" x2="535.6" y2="528.8" stroke="#fff" stroke-width="0.8" opacity=".35"/><line x1="551.2" y1="456.3" x2="551.2" y2="528.8" stroke="#fff" stroke-width="0.8" opacity=".35"/></g><g><ellipse cx="728.8" cy="415.2" rx="21.6" ry="10.9" fill="#8fe6fb" opacity=".55" filter="url(#blur2)"/><ellipse cx="728.8" cy="414.1" rx="20.0" ry="9.8" fill="#a8ecfc" opacity=".8"/><path d="M708.8 381.5 L708.8 414.1 A20.0 9.8 0 0 0 748.8 414.1 L748.8 381.5 Z" fill="url(#gglass)"/><path d="M712.4 400.5 L712.4 413.0 A16.4 7.5 0 0 0 745.2 413.0 L745.2 400.5 Z" fill="url(#gdbs)" /><ellipse cx="728.8" cy="400.5" rx="16.4" ry="7.5" fill="#8fdcfa"/><path d="M712.4 394.8 L712.4 400.5 A16.4 7.5 0 0 0 745.2 400.5 L745.2 394.8 Z" fill="url(#gdbg)" /><path d="M712.4 387.5 L712.4 394.8 A16.4 7.5 0 0 0 745.2 394.8 L745.2 387.5 Z" fill="url(#gdbs)" /><ellipse cx="728.8" cy="387.5" rx="16.4" ry="7.5" fill="#8fdcfa"/><path d="M712.4 381.5 L712.4 387.5 A16.4 7.5 0 0 0 745.2 387.5 L745.2 381.5 Z" fill="url(#gdbg)" /><path d="M712.4 375.3 L712.4 381.5 A16.4 7.5 0 0 0 745.2 381.5 L745.2 375.3 Z" fill="url(#gdbs)" /><ellipse cx="728.8" cy="375.3" rx="16.4" ry="7.5" fill="url(#gdbt)"/><line x1="720.3" y1="381.3" x2="720.3" y2="419.0" stroke="#fff" stroke-width="0.6" opacity=".35"/><line x1="732.4" y1="381.3" x2="732.4" y2="419.0" stroke="#fff" stroke-width="0.6" opacity=".35"/><line x1="740.9" y1="381.3" x2="740.9" y2="419.0" stroke="#fff" stroke-width="0.6" opacity=".35"/></g><path d="M337.4 607.8 L352.4 616.6 L388 597 L380 590Z" fill="#d9e0fa" opacity=".8"/><path d="M336 601 L352.4 610.6 L388 592 L388 594 L352.4 612.8 L336 603Z" fill="#c9d2f6"/><path d="M336 601 L352.4 610.6 L388 592 L379.8 582.5Z" fill="#f4f6fe"/><g transform="matrix(0.3710 -0.2120 0.0000 0.4160 339.2 560.0)"><rect x="0" y="0" width="100" height="100" rx="4" fill="url(#gmon)"/><path d="M12 46 L29 45 L34 35 L46 45 L53 34 L64 43 L74 44 L84 35 L86 48 L100 52 L100 56 L12 56 Z" fill="#f3aa4c"/><rect x="16.0" y="62.0" width="11" height="11" fill="#1b55c8"/><rect x="28.0" y="62.0" width="11" height="11" fill="#0b1d6e"/><rect x="40.0" y="62.0" width="11" height="11" fill="#1b55c8"/><rect x="52.0" y="62.0" width="11" height="11" fill="#2a9df4"/><rect x="64.0" y="62.0" width="11" height="11" fill="#2a9df4"/><rect x="76.0" y="62.0" width="11" height="11" fill="#0b1d6e"/><rect x="88.0" y="62.0" width="11" height="11" fill="#2a9df4"/><rect x="16.0" y="74.0" width="11" height="11" fill="#0b1d6e"/><rect x="28.0" y="74.0" width="11" height="11" fill="#2a9df4"/><rect x="40.0" y="74.0" width="11" height="11" fill="#2a9df4"/><rect x="52.0" y="74.0" width="11" height="11" fill="#0b1d6e"/><rect x="64.0" y="74.0" width="11" height="11" fill="#1b55c8"/><rect x="76.0" y="74.0" width="11" height="11" fill="#2a9df4"/><rect x="88.0" y="74.0" width="11" height="11" fill="#2a9df4"/></g><ellipse cx="404" cy="619" rx="8" ry="4" fill="#b9b3da" opacity=".6" filter="url(#blur1)"/><ellipse cx="383" cy="576" rx="3.3" ry="5.4" fill="#f7d13a"/><ellipse cx="383.6" cy="576" rx="2.4" ry="4.4" fill="#fbe25c"/><g><path d="M402.4 593.8 L396.5 593.8 L397.5 609.0 L398.9 620.7 L402.1 620.7 L401.9 609.0Z" fill="#17181f" /><path d="M397.0 593.8 L391.6 593.8 L391.9 609.0 L390.9 618.3 L394.0 618.8 L395.4 609.0Z" fill="#17181f" /><path d="M402.4 620.2 L398.6 620.0 L396.3 622.5 L398.2 623.7 L402.4 623.2Z" fill="#0b0b10" /><path d="M394.2 618.1 L390.7 617.9 L388.1 620.2 L390.0 621.4 L394.0 620.9Z" fill="#0b0b10" /><path d="M402.4 575.7 L398.2 573.9 L393.0 574.6 L390.4 577.8 L390.0 587.9 L390.9 596.6 L402.9 596.6 L403.8 585.6Z" fill="#17181f" stroke="#17181f" stroke-width=".6" stroke-linejoin="round"/><path d="M398.2 571.3 L395.1 571.3 L394.9 574.6 L397.9 574.6Z" fill="#f3bf98" /><ellipse cx="396.3" cy="569.2" rx="2.7" ry="3.3" fill="#f8d0b3"/><path d="M393.5 567.3 Q394.0 563.8 398.2 564.5 Q401.2 566.1 399.6 571.5 Q397.9 567.3 393.5 567.3 Z" fill="#5a3a22"/></g><path d="M392 579.5 L387 582.5 L385.4 580.6" stroke="#17181f" stroke-width="2.3" fill="none" stroke-linecap="round" stroke-linejoin="round"/><circle cx="385.2" cy="580" r="1.3" fill="#f6c6a3"/><ellipse cx="705" cy="252" rx="24" ry="6" fill="#dde3fa" opacity=".45" transform="rotate(28 705 252)"/><path d="M681.7 197.5 L681.7 234.9 A5.5 2.6 0 0 0 692.7 234.9 L692.7 197.5 Z" fill="url(#gbar)"/><ellipse cx="687.2" cy="197.5" rx="5.5" ry="2.6" fill="#56c4f9"/><path d="M692.7 212.6 L692.7 240.6 A5.5 2.6 0 0 0 703.7 240.6 L703.7 212.6 Z" fill="url(#gbar)"/><ellipse cx="698.2" cy="212.6" rx="5.5" ry="2.6" fill="#56c4f9"/><path d="M703.6 228.0 L703.6 246.7 A5.5 2.6 0 0 0 714.6 246.7 L714.6 228.0 Z" fill="url(#gbar)"/><ellipse cx="709.1" cy="228.0" rx="5.5" ry="2.6" fill="#56c4f9"/><path d="M712.9 237.7 L712.9 256.4 A5.5 2.6 0 0 0 723.9 256.4 L723.9 237.7 Z" fill="url(#gbar)"/><ellipse cx="718.4" cy="237.7" rx="5.5" ry="2.6" fill="#56c4f9"/><g><path d="M672.0 235.0 L677.0 235.0 L676.2 248.0 L675.0 258.0 L672.2 258.0 L672.4 248.0Z" fill="#131a52" /><path d="M676.6 235.0 L681.2 235.0 L681.0 248.0 L681.8 256.0 L679.2 256.4 L678.0 248.0Z" fill="#131a52" /><path d="M672.0 257.6 L675.2 257.4 L677.2 259.6 L675.6 260.6 L672.0 260.2Z" fill="#2a7de0" /><path d="M679.0 255.8 L682.0 255.6 L684.2 257.6 L682.6 258.6 L679.2 258.2Z" fill="#2a7de0" /><path d="M672.0 219.6 L675.6 218.0 L680.0 218.6 L682.2 221.4 L682.6 230.0 L681.8 237.4 L671.6 237.4 L670.8 228.0Z" fill="#2a8deb" stroke="#2a8deb" stroke-width=".6" stroke-linejoin="round"/><path d="M676.4 218.4 L678.6 218.6 L678.0 227.0 L677.2 227.0Z" fill="#f5f7ff" /><path d="M677.2 219.0 L678.2 219.0 L677.9 225.5 L677.5 225.5Z" fill="#f3a94a" /><path d="M675.6 215.8 L678.2 215.8 L678.4 218.6 L675.8 218.6Z" fill="#f3bf98" /><ellipse cx="677.2" cy="214.0" rx="2.3" ry="2.8" fill="#f8d0b3"/><path d="M679.6 212.4 Q679.2 209.4 675.6 210.0 Q673.0 211.4 674.4 216.0 Q675.8 212.4 679.6 212.4 Z" fill="#141a4a"/></g><path d="M672 223 L672.4 231.5 L677.6 233.6" stroke="#2585e6" stroke-width="2.4" fill="none" stroke-linecap="round" stroke-linejoin="round"/><circle cx="678.2" cy="233.4" r="1.2" fill="#f6c6a3"/><g transform="matrix(0.2480 -0.1420 0.0000 0.2560 84.6 399.1)"><rect x="0" y="0" width="100" height="100" fill="#e9ecfb" stroke="#b4bdea" stroke-width="3"/><rect x="0" y="0" width="100" height="14" fill="#f4f6fe" stroke="#b4bdea" stroke-width="3"/><circle cx="76" cy="7" r="2.2" fill="#4a56a8"/><circle cx="84" cy="7" r="2.2" fill="#4a56a8"/><circle cx="92" cy="7" r="2.2" fill="#4a56a8"/><rect x="8" y="24" width="84" height="4" fill="#c9d0f1"/><rect x="8" y="33" width="84" height="4" fill="#c9d0f1"/><rect x="8" y="42" width="84" height="4" fill="#c9d0f1"/><rect x="8" y="51" width="84" height="4" fill="#c9d0f1"/><rect x="8" y="60" width="84" height="4" fill="#c9d0f1"/><rect x="8" y="69" width="84" height="4" fill="#c9d0f1"/><rect x="8" y="78" width="84" height="4" fill="#c9d0f1"/><rect x="8" y="87" width="84" height="4" fill="#c9d0f1"/><rect x="55" y="30" width="22" height="5" fill="#3e4aa0"/><rect x="60" y="56" width="18" height="5" fill="#3e4aa0"/><rect x="45" y="40" width="12" height="4" fill="#f0661f"/><rect x="58" y="64" width="12" height="4" fill="#f0661f"/></g><g transform="matrix(0.3000 -0.1790 0.0000 0.4370 105.8 400.0)"><rect x="0" y="0" width="100" height="100" fill="#f7f8fe" stroke="#e3e7f8" stroke-width="1.5"/><rect x="0" y="0" width="100" height="11" fill="#a9b3de"/><rect x="78" y="3.5" width="4" height="4" fill="#eef0fb"/><rect x="85" y="3.5" width="4" height="4" fill="#eef0fb"/><rect x="92" y="3.5" width="4" height="4" fill="#eef0fb"/><circle cx="20" cy="27" r="10.5" fill="none" stroke="#aab3e2" stroke-width="2.2"/><circle cx="50" cy="27" r="10.5" fill="none" stroke="#aab3e2" stroke-width="2.2"/><circle cx="80" cy="27" r="10.5" fill="none" stroke="#aab3e2" stroke-width="2.2"/><path d="M9.5 27 A10.5 10.5 0 0 0 24 36.7" fill="none" stroke="#f0661f" stroke-width="2.6"/><path d="M20 16.5 A10.5 10.5 0 0 1 30 23" fill="none" stroke="#2f3b9c" stroke-width="2.6"/><path d="M80 16.5 A10.5 10.5 0 0 1 90.5 27" fill="none" stroke="#f0661f" stroke-width="2.6"/><rect x="14" y="45" width="13" height="11" fill="#d5d8e6"/><rect x="44" y="45" width="13" height="11" fill="#d5d8e6"/><rect x="74" y="45" width="13" height="11" fill="#d5d8e6"/><rect x="30" y="64" width="50" height="2.4" fill="#d9dcea"/><rect x="8" y="72" width="84" height="2.4" fill="#d9dcea"/><rect x="8" y="80" width="84" height="2.4" fill="#d9dcea"/><rect x="8" y="88" width="84" height="2.4" fill="#d9dcea"/></g><g transform="matrix(0.2140 -0.1210 0.0000 0.2590 135.8 396.7)"><rect x="0" y="0" width="100" height="100" fill="#f0641c"/><rect x="0" y="0" width="100" height="10" fill="#fbe9e2"/><rect x="0" y="0" width="100" height="2.5" fill="#e2552a"/><circle cx="74" cy="6" r="2" fill="#e2552a"/><circle cx="83" cy="6" r="2" fill="#e2552a"/><circle cx="92" cy="6" r="2" fill="#e2552a"/><rect x="8" y="20" width="70" height="3.6" fill="#fff" opacity=".92"/><rect x="8" y="29" width="82" height="3.6" fill="#fff" opacity=".92"/><rect x="8" y="38" width="60" height="3.6" fill="#fff" opacity=".92"/><rect x="8" y="47" width="84" height="3.6" fill="#fff" opacity=".92"/><rect x="8" y="56" width="76" height="3.6" fill="#fff" opacity=".92"/><rect x="8" y="65" width="84" height="3.6" fill="#fff" opacity=".92"/><rect x="8" y="74" width="58" height="3.6" fill="#fff" opacity=".92"/><rect x="8" y="83" width="80" height="3.6" fill="#fff" opacity=".92"/><rect x="8" y="92" width="66" height="3.6" fill="#fff" opacity=".92"/><rect x="48" y="26" width="26" height="6" fill="#2a2f78"/><rect x="50" y="55" width="30" height="6" fill="#2a2f78"/></g><g transform="matrix(0.6020 -0.3130 0.0000 0.4330 952.2 141.5)"><rect x="0" y="0" width="100" height="100" rx="2" fill="#c9ecfb" opacity=".92"/><rect x="0" y="0" width="100" height="100" rx="2" fill="none" stroke="#e4f6fe" stroke-width="1.5"/><rect x="2" y="2" width="96" height="9" fill="url(#gp4bar)"/><rect x="12.0" y="17" width="14" height="21" rx="3" fill="#59b6f7"/><rect x="15.0" y="23" width="8" height="9" rx="1" fill="#fff" opacity=".8"/><rect x="33.5" y="17" width="14" height="21" rx="3" fill="#4aa6f5"/><rect x="36.5" y="23" width="8" height="9" rx="1" fill="#fff" opacity=".8"/><rect x="55.0" y="17" width="14" height="21" rx="3" fill="#f2a56b"/><rect x="58.0" y="23" width="8" height="9" rx="1" fill="#fff" opacity=".8"/><rect x="76.5" y="17" width="14" height="21" rx="3" fill="#52caf3"/><rect x="79.5" y="23" width="8" height="9" rx="1" fill="#fff" opacity=".8"/><rect x="33" y="44" width="18" height="2.8" rx="1.4" fill="#4ec5f4"/><rect x="55" y="42" width="20" height="2.8" rx="1.4" fill="#f4cd4d"/><rect x="77" y="44" width="16" height="2.8" rx="1.4" fill="#4ec5f4"/><rect x="33" y="50" width="16" height="2.8" rx="1.4" fill="#4ec5f4"/><rect x="55" y="50" width="16" height="2.8" rx="1.4" fill="#4ec5f4"/><rect x="77" y="50" width="16" height="2.8" rx="1.4" fill="#4ec5f4"/><rect x="30" y="56" width="26" height="2.8" rx="1.4" fill="#f4cd4d"/><rect x="58" y="57" width="14" height="2.8" rx="1.4" fill="#4ec5f4"/><rect x="77" y="56" width="16" height="2.8" rx="1.4" fill="#4ec5f4"/><rect x="12" y="60" width="10" height="2.8" rx="1.4" fill="#4ec5f4"/><rect x="30" y="63" width="14" height="2.8" rx="1.4" fill="#4ec5f4"/><rect x="12" y="66" width="10" height="2.8" rx="1.4" fill="#4ec5f4"/><rect x="12" y="44" width="14" height="12" rx="3" fill="#4cbcf5"/></g><g><path d="M1018.0 192.8 L1017.7 211.8" stroke="#f3bf98" stroke-width="2.1" stroke-linecap="round"/><path d="M1024.0 192.8 L1024.2 211.3" stroke="#f6caa6" stroke-width="2.1" stroke-linecap="round"/><path d="M1014.6 213.6 L1018.6 211.2 L1019.0 214.2 L1018.2 214.6 L1018.0 213.2 L1016.0 214.8Z" fill="#151c4a" /><path d="M1020.6 213.0 L1024.6 210.6 L1025.2 213.6 L1024.4 214.0 L1024.2 212.6 L1022.0 214.2Z" fill="#151c4a" /><path d="M1017.6 158.8 Q1018.6 153.8 1024.1 155.3 Q1030.1 158.8 1029.6 168.8 Q1030.1 172.8 1027.1 172.3 Q1024.6 167.8 1017.6 158.8 Z" fill="#151c4a"/><path d="M1016.0 181.3 L1027.8 181.3 L1029.2 193.8 L1021.6 195.0 L1014.2 193.4Z" fill="#2a9af0" /><path d="M1017.2 165.4 L1022.1 164.2 L1027.0 166.4 L1028.4 174.8 L1027.8 182.2 L1016.0 182.2 L1016.4 173.8Z" fill="#f0a24f" stroke="#f0a24f" stroke-width=".6" stroke-linejoin="round"/><path d="M1018.0 167.3 L1010.1 173.8 L1014.0 168.3" stroke="#f0a24f" stroke-width="2.5" fill="none" stroke-linecap="round" stroke-linejoin="round"/><circle cx="1014.4" cy="167.2" r="1.2" fill="#f6c6a3"/><path d="M1020.0 162.8 L1022.6 162.8 L1022.8 165.2 L1020.2 165.2Z" fill="#f3bf98" /><ellipse cx="1020.0" cy="160.6" rx="2.3" ry="2.9" fill="#f8d0b3"/><path d="M1017.4 158.8 Q1019.6 154.3 1023.6 156.3 Q1025.6 160.8 1023.6 164.8 Q1021.6 159.3 1017.4 158.8 Z" fill="#151c4a"/></g><path d="M364.5 168.5 Q364.5 166 367 165 L389 158.5 Q392.5 157.8 392.5 161 L392.5 200 L364.5 205Z" fill="#eceffb" opacity=".9"/><path d="M372.5 167.2 l2.3 -.86 l0 2.4 l-2.3 .86Z" fill="#1e2a78"/><path d="M374.9 166.3 l2.3 -.86 l0 2.4 l-2.3 .86Z" fill="#2f8fe8"/><path d="M377.4 165.4 l2.3 -.86 l0 2.4 l-2.3 .86Z" fill="#18205e"/><path d="M379.9 164.4 l2.3 -.86 l0 2.4 l-2.3 .86Z" fill="#3aa0f0"/><path d="M382.3 163.5 l2.3 -.86 l0 2.4 l-2.3 .86Z" fill="#1e2a78"/><path d="M384.8 162.6 l2.3 -.86 l0 2.4 l-2.3 .86Z" fill="#2f8fe8"/><path d="M372.5 169.8 l2.3 -.86 l0 2.4 l-2.3 .86Z" fill="#18205e"/><path d="M374.9 168.9 l2.3 -.86 l0 2.4 l-2.3 .86Z" fill="#3aa0f0"/><path d="M377.4 168.0 l2.3 -.86 l0 2.4 l-2.3 .86Z" fill="#1e2a78"/><path d="M379.9 167.0 l2.3 -.86 l0 2.4 l-2.3 .86Z" fill="#2f8fe8"/><path d="M382.3 166.1 l2.3 -.86 l0 2.4 l-2.3 .86Z" fill="#1e2a78"/><path d="M384.8 165.2 l2.3 -.86 l0 2.4 l-2.3 .86Z" fill="#2f8fe8"/><g transform="matrix(0.4050 0.1700 0.0000 0.2590 364.3 176.4)"><rect x="0" y="0" width="100" height="100" rx="3" fill="#f3f5fd" opacity="0.96"/><rect x="6.0" y="7.0" width="9.0" height="2.6" fill="#f3a066"/><rect x="17.0" y="7.0" width="30.0" height="2.6" fill="#343a7e"/><rect x="7.0" y="17.5" width="22.0" height="2.6" fill="#343a7e"/><rect x="10.0" y="28.0" width="6.0" height="2.6" fill="#f3a066"/><rect x="18.0" y="28.0" width="40.0" height="2.6" fill="#343a7e"/><rect x="5.0" y="38.5" width="8.0" height="2.6" fill="#f3a066"/><rect x="15.0" y="38.5" width="78.0" height="2.6" fill="#343a7e"/><rect x="16.0" y="49.0" width="74.0" height="2.6" fill="#343a7e"/><rect x="5.0" y="59.5" width="7.0" height="2.6" fill="#f3a066"/><rect x="14.0" y="59.5" width="82.0" height="2.6" fill="#343a7e"/><rect x="16.0" y="70.0" width="7.0" height="2.6" fill="#f3a066"/><rect x="25.0" y="70.0" width="68.0" height="2.6" fill="#343a7e"/><rect x="26.0" y="80.5" width="66.0" height="2.6" fill="#343a7e"/><rect x="32.0" y="91.0" width="60.0" height="2.6" fill="#343a7e"/></g><g><path d="M411.5 205.3 L411.2 221.6" stroke="#f3bf98" stroke-width="1.8" stroke-linecap="round"/><path d="M416.7 205.3 L416.8 221.2" stroke="#f6caa6" stroke-width="1.8" stroke-linecap="round"/><path d="M408.6 223.2 L412.0 221.1 L412.4 223.7 L411.7 224.0 L411.5 222.8 L409.8 224.2Z" fill="#151c4a" /><path d="M413.7 222.7 L417.2 220.6 L417.7 223.2 L417.0 223.5 L416.8 222.3 L414.9 223.7Z" fill="#151c4a" /><path d="M411.2 176.0 Q412.0 171.7 416.8 173.0 Q421.9 176.0 421.5 184.6 Q421.9 188.1 419.3 187.6 Q417.2 183.8 411.2 176.0 Z" fill="#151c4a"/><path d="M409.8 195.4 L419.9 195.4 L421.1 206.1 L414.6 207.2 L408.2 205.8Z" fill="#2a9af0" /><path d="M410.8 181.7 L415.0 180.7 L419.2 182.6 L420.4 189.8 L419.9 196.2 L409.8 196.2 L410.1 188.9Z" fill="#f0a24f" stroke="#f0a24f" stroke-width=".6" stroke-linejoin="round"/><path d="M411.5 183.3 L404.7 188.9 L408.1 184.2" stroke="#f0a24f" stroke-width="2.1" fill="none" stroke-linecap="round" stroke-linejoin="round"/><circle cx="408.4" cy="183.3" r="1.0" fill="#f6c6a3"/><path d="M413.2 179.5 L415.5 179.5 L415.6 181.5 L413.4 181.5Z" fill="#f3bf98" /><ellipse cx="413.2" cy="177.6" rx="2.0" ry="2.5" fill="#f8d0b3"/><path d="M411.0 176.0 Q412.9 172.2 416.3 173.9 Q418.0 177.8 416.3 181.2 Q414.6 176.5 411.0 176.0 Z" fill="#151c4a"/></g><rect x="-1" y="-1" width="2" height="2" rx="0.2" transform="matrix(10.00 5.25 -10.00 5.25 183.0 221.0)" fill="#dbe2f7" opacity=".9"/><path d="M163.0 202.0 L183.0 212.5 L183.0 221.5 L163.0 211.0 Z" fill="#e4e8fb"/><path d="M203.0 202.0 L183.0 212.5 L183.0 221.5 L203.0 211.0 Z" fill="#f4f6fe"/><path d="M163.0 202.0 L183.0 191.5 L203.0 202.0 L183.0 212.5 Z" fill="#f4f6fe"/><path d="M168.5 199.5 L183.0 207.1 L183.0 210.3 L168.5 202.7 Z" fill="#1e5fe0"/><path d="M197.5 199.5 L183.0 207.1 L183.0 210.3 L197.5 202.7 Z" fill="#1449c4"/><path d="M168.5 199.5 L183.0 191.9 L197.5 199.5 L183.0 207.1 Z" fill="#1e5fe0"/><path d="M163.0 189.0 L183.0 199.5 L183.0 207.5 L163.0 197.0 Z" fill="#e6eafc"/><path d="M203.0 189.0 L183.0 199.5 L183.0 207.5 L203.0 197.0 Z" fill="#f6f8fe"/><path d="M163.0 189.0 L183.0 178.5 L203.0 189.0 L183.0 199.5 Z" fill="#fafbff"/><path d="M171.5 188.5 L183 182.5 L195 188.5 L183 195Z" fill="url(#gp1)"/><path d="M172 188 L172 166 L183 161.5 L194 166 L194 188 L183 182.5Z" fill="url(#gholo)"/><rect x="189.3" y="172.5" width="1.8" height="3" fill="#f0a24f" transform="rotate(20 190 174)"/><rect x="180.6" y="182" width="1.8" height="3.4" fill="#f0a24f" transform="rotate(20 181 184)"/><rect x="176" y="168" width="2.4" height="3.4" fill="#fff" opacity=".6"/><rect x="184" y="171" width="1.5" height="3.6" fill="#cfe2fa" opacity=".9"/></g>
<g id="bubbles" transform="translate(.5 .5)"><path d="M66.8 63.0L220.7 63.0 Q225.5 63.0 225.5 67.8L225.5 155.9 Q225.5 160.7 220.7 160.7L165.0 160.7Q164.2 169.8 175.0 179.0L128.0 160.7L66.8 160.7 Q62.0 160.7 62.0 155.9L62.0 67.8 Q62.0 63.0 66.8 63.0 Z" fill="#fff" stroke="#4071b8" stroke-width="1.6" stroke-linejoin="round"/>
<path d="M299.5 54.7L469.5 54.7 Q474.3 54.7 474.3 59.5L474.3 147.1 Q474.3 151.9 469.5 151.9L398.5 151.9Q397.7 162.2 408.8 172.4L362.7 151.9L299.5 151.9 Q294.7 151.9 294.7 147.1L294.7 59.5 Q294.7 54.7 299.5 54.7 Z" fill="#fff" stroke="#4071b8" stroke-width="1.6" stroke-linejoin="round"/>
<path d="M550.1 18.3L720.1 18.3 Q724.9 18.3 724.9 23.1L724.9 110.6 Q724.9 115.4 720.1 115.4L648.3 115.4Q647.4 125.7 659.5 136.0L615.4 115.4L550.1 115.4 Q545.3 115.4 545.3 110.6L545.3 23.1 Q545.3 18.3 550.1 18.3 Z" fill="#fff" stroke="#4071b8" stroke-width="1.6" stroke-linejoin="round"/>
<path d="M950.2 11.2L1132.8 11.2 Q1137.6 11.2 1137.6 16.0L1137.6 103.5 Q1137.6 108.3 1132.8 108.3L1050.0 108.3L1019.8 124.7Q1011.4 116.5 1012.0 108.3L950.2 108.3 Q945.4 108.3 945.4 103.5L945.4 16.0 Q945.4 11.2 950.2 11.2 Z" fill="#fff" stroke="#4071b8" stroke-width="1.6" stroke-linejoin="round"/>
<path d="M31.3 241.2L241.9 241.2 Q246.7 241.2 246.7 246.0L246.7 323.2 Q246.7 328.0 241.9 328.0L205.0 328.0Q204.0 338.0 217.0 348.0L169.0 328.0L31.3 328.0 Q26.5 328.0 26.5 323.2L26.5 246.0 Q26.5 241.2 31.3 241.2 Z" fill="#fff" stroke="#4071b8" stroke-width="1.6" stroke-linejoin="round"/>
<path d="M325.7 261.8L494.8 261.8 Q499.6 261.8 499.6 266.6L499.6 343.5 Q499.6 348.3 494.8 348.3L378.3 348.3Q377.6 358.0 387.2 367.7L344.2 348.3L325.7 348.3 Q320.9 348.3 320.9 343.5L320.9 266.6 Q320.9 261.8 325.7 261.8 Z" fill="#fff" stroke="#4071b8" stroke-width="1.6" stroke-linejoin="round"/>
<path d="M686.0 278.9L702.0 278.9Q702.1 271.9 700.7 265.0L740.0 278.9L853.6 278.9 Q858.4 278.9 858.4 283.7L858.4 360.3 Q858.4 365.1 853.6 365.1L686.0 365.1 Q681.2 365.1 681.2 360.3L681.2 283.7 Q681.2 278.9 686.0 278.9 Z" fill="#fff" stroke="#4071b8" stroke-width="1.6" stroke-linejoin="round"/>
<path d="M941.3 219.2L1132.8 219.2 Q1137.6 219.2 1137.6 224.0L1137.6 300.9 Q1137.6 305.7 1132.8 305.7L992.5 305.7L966.0 326.6Q958.0 316.1 958.6 305.7L941.3 305.7 Q936.5 305.7 936.5 300.9L936.5 224.0 Q936.5 219.2 941.3 219.2 Z" fill="#fff" stroke="#4071b8" stroke-width="1.6" stroke-linejoin="round"/>
<path d="M7.2 486.2L106.5 486.2Q107.1 472.4 98.9 458.7L141.0 486.2L178.3 486.2 Q183.1 486.2 183.1 491.0L183.1 567.7 Q183.1 572.5 178.3 572.5L7.2 572.5 Q2.4 572.5 2.4 567.7L2.4 491.0 Q2.4 486.2 7.2 486.2 Z" fill="#fff" stroke="#4071b8" stroke-width="1.6" stroke-linejoin="round"/>
<path d="M236.6 451.8L446.9 451.8 Q451.7 451.8 451.7 456.6L451.7 533.8 Q451.7 538.6 446.9 538.6L410.5 538.6L369.3 563.7Q377.2 551.2 376.6 538.6L236.6 538.6 Q231.8 538.6 231.8 533.8L231.8 456.6 Q231.8 451.8 236.6 451.8 Z" fill="#fff" stroke="#4071b8" stroke-width="1.6" stroke-linejoin="round"/>
<path d="M733.4 408.6L751.6 408.6Q751.8 401.4 748.8 394.2L788.0 408.6L901.0 408.6 Q905.8 408.6 905.8 413.4L905.8 490.0 Q905.8 494.8 901.0 494.8L733.4 494.8 Q728.6 494.8 728.6 490.0L728.6 413.4 Q728.6 408.6 733.4 408.6 Z" fill="#fff" stroke="#4071b8" stroke-width="1.6" stroke-linejoin="round"/>
<path d="M632.2 574.7L772.2 574.7Q773.4 561.0 757.5 547.3L806.0 574.7L823.3 574.7 Q828.1 574.7 828.1 579.5L828.1 656.1 Q828.1 660.9 823.3 660.9L632.2 660.9 Q627.4 660.9 627.4 656.1L627.4 579.5 Q627.4 574.7 632.2 574.7 Z" fill="#fff" stroke="#4071b8" stroke-width="1.6" stroke-linejoin="round"/>
<path d="M882.5 549.8L1022.0 549.8Q1023.2 535.8 1007.3 521.7L1057.0 549.8L1074.1 549.8 Q1078.9 549.8 1078.9 554.6L1078.9 631.0 Q1078.9 635.8 1074.1 635.8L882.5 635.8 Q877.7 635.8 877.7 631.0L877.7 554.6 Q877.7 549.8 882.5 549.8 Z" fill="#fff" stroke="#4071b8" stroke-width="1.6" stroke-linejoin="round"/>
</g>
<g id="icons-over"><path d="M392 436 L398 441 L434 421 L429 417Z" fill="#cfd8f8" opacity=".8"/><path d="M381.6 371.8 L383 370.9 L392.7 435.4 L391.5 436.4Z" fill="#b7a8ea"/><g transform="matrix(0.3620 -0.1760 0.0539 0.3583 383.0 370.9)"><rect x="0" y="0" width="100" height="180" rx="5" fill="url(#gnote)"/><path d="M0 5 Q0 0 5 0 L95 0 Q100 0 100 5 L100 24 L0 24Z" fill="#1a6fe0"/><line x1="33.3" y1="24" x2="33.3" y2="180" stroke="#1a6ddb" stroke-width="1.6"/><line x1="66.6" y1="24" x2="66.6" y2="180" stroke="#1a6ddb" stroke-width="1.6"/><line x1="0" y1="50.0" x2="100" y2="50.0" stroke="#1a6ddb" stroke-width="1.6"/><line x1="0" y1="76.0" x2="100" y2="76.0" stroke="#1a6ddb" stroke-width="1.6"/><line x1="0" y1="102.0" x2="100" y2="102.0" stroke="#1a6ddb" stroke-width="1.6"/><line x1="0" y1="128.0" x2="100" y2="128.0" stroke="#1a6ddb" stroke-width="1.6"/><line x1="0" y1="154.0" x2="100" y2="154.0" stroke="#1a6ddb" stroke-width="1.6"/><circle cx="50" cy="38" r="8" fill="none" stroke="#f3a94a" stroke-width="4" stroke-dasharray="36 14"/><rect x="8" y="60" width="22" height="17" fill="#f3a94a"/><circle cx="50" cy="82" r="9" fill="#fff"/><circle cx="50" cy="82" r="3.5" fill="#2487f0"/><rect x="72" y="84" width="22" height="24" fill="#f3a94a"/><path d="M76 90 L83 102 L91 88" stroke="#fff" stroke-width="4.5" fill="none"/><rect x="8" y="92" width="20" height="3" fill="#0f3fa6"/><rect x="8" y="100" width="20" height="3" fill="#0f3fa6"/><rect x="40" y="118" width="24" height="3" fill="#0f3fa6"/><rect x="40" y="125" width="24" height="3" fill="#0f3fa6"/><circle cx="83" cy="141" r="9" fill="none" stroke="#d7ecff" stroke-width="2.5"/><circle cx="83" cy="141" r="2.5" fill="#d7ecff"/><polygon points="52.0,142.0 54.6,148.4 61.5,148.9 56.3,153.4 57.9,160.1 52.0,156.5 46.1,160.1 47.7,153.4 42.5,148.9 49.4,148.4" fill="#f3a94a"/></g><ellipse cx="388.4" cy="366.1" rx="1.7" ry="4.4" transform="rotate(-20 388.4 366.1)" fill="none" stroke="#b4bfec" stroke-width="1.9"/><ellipse cx="388.4" cy="366.1" rx="1.7" ry="4.4" transform="rotate(-20 388.4 366.1)" fill="none" stroke="#f8faff" stroke-width="1.2"/><circle cx="389.6" cy="370.6" r="1" fill="#0f4fc0"/><ellipse cx="395.1" cy="362.8" rx="1.7" ry="4.4" transform="rotate(-20 395.1 362.8)" fill="none" stroke="#b4bfec" stroke-width="1.9"/><ellipse cx="395.1" cy="362.8" rx="1.7" ry="4.4" transform="rotate(-20 395.1 362.8)" fill="none" stroke="#f8faff" stroke-width="1.2"/><circle cx="396.3" cy="367.3" r="1" fill="#0f4fc0"/><ellipse cx="401.8" cy="359.6" rx="1.7" ry="4.4" transform="rotate(-20 401.8 359.6)" fill="none" stroke="#b4bfec" stroke-width="1.9"/><ellipse cx="401.8" cy="359.6" rx="1.7" ry="4.4" transform="rotate(-20 401.8 359.6)" fill="none" stroke="#f8faff" stroke-width="1.2"/><circle cx="403.0" cy="364.1" r="1" fill="#0f4fc0"/><ellipse cx="408.5" cy="356.3" rx="1.7" ry="4.4" transform="rotate(-20 408.5 356.3)" fill="none" stroke="#b4bfec" stroke-width="1.9"/><ellipse cx="408.5" cy="356.3" rx="1.7" ry="4.4" transform="rotate(-20 408.5 356.3)" fill="none" stroke="#f8faff" stroke-width="1.2"/><circle cx="409.7" cy="360.8" r="1" fill="#0f4fc0"/><ellipse cx="415.2" cy="353.1" rx="1.7" ry="4.4" transform="rotate(-20 415.2 353.1)" fill="none" stroke="#b4bfec" stroke-width="1.9"/><ellipse cx="415.2" cy="353.1" rx="1.7" ry="4.4" transform="rotate(-20 415.2 353.1)" fill="none" stroke="#f8faff" stroke-width="1.2"/><circle cx="416.4" cy="357.6" r="1" fill="#0f4fc0"/><g transform="matrix(0.4850 0.1410 0.0000 0.3100 673.3 118.9)"><rect x="0" y="0" width="100" height="100" rx="3" fill="#eef1fc" opacity="0.9"/><rect x="6.0" y="7.0" width="9.0" height="2.6" fill="#f3a066"/><rect x="17.0" y="7.0" width="30.0" height="2.6" fill="#343a7e"/><rect x="7.0" y="17.5" width="22.0" height="2.6" fill="#343a7e"/><rect x="10.0" y="28.0" width="6.0" height="2.6" fill="#f3a066"/><rect x="18.0" y="28.0" width="40.0" height="2.6" fill="#343a7e"/><rect x="5.0" y="38.5" width="8.0" height="2.6" fill="#f3a066"/><rect x="15.0" y="38.5" width="78.0" height="2.6" fill="#343a7e"/><rect x="16.0" y="49.0" width="74.0" height="2.6" fill="#343a7e"/><rect x="5.0" y="59.5" width="7.0" height="2.6" fill="#f3a066"/><rect x="14.0" y="59.5" width="82.0" height="2.6" fill="#343a7e"/><rect x="16.0" y="70.0" width="7.0" height="2.6" fill="#f3a066"/><rect x="25.0" y="70.0" width="68.0" height="2.6" fill="#343a7e"/><rect x="26.0" y="80.5" width="66.0" height="2.6" fill="#343a7e"/><rect x="32.0" y="91.0" width="60.0" height="2.6" fill="#343a7e"/></g><ellipse cx="748.3" cy="159.9" rx="9" ry="3.5" fill="#d5daf4" opacity=".45"/><path d="M737.7 123.8 L746.0 125.9 L744.8 138.3 L742.0 155.3 L737.9 154.4 L737.4 138.3Z" fill="#cdd4f5" /><path d="M745.7 125.6 L752.9 126.3 L752.0 140.1 L751.7 158.8 L747.8 158.3 L747.3 140.1Z" fill="#dde2f9" /><path d="M733.5 156.0 L737.7 153.9 L742.0 154.2 L742.3 156.3 L736.3 158.4Z" fill="#141b5c" stroke="#141b5c" stroke-width=".8" stroke-linejoin="round"/><path d="M745.2 161.6 L748.0 158.1 L751.7 157.9 L752.4 159.9 L747.6 163.2Z" fill="#141b5c" stroke="#141b5c" stroke-width=".8" stroke-linejoin="round"/><path d="M737.7 105.1 L742.7 101.6 L750.5 102.3 L755.1 108.3 L757.7 113.6 L756.5 118.2 L753.1 121.7 L753.1 127.0 L737.7 124.5 L735.6 115.3Z" fill="#1b2a7a" stroke="#1b2a7a" stroke-width="1.2" stroke-linejoin="round"/><path d="M745.9 114.6 L751.2 111.1 L751.9 119.9 L746.6 123.8Z" fill="#0f1750" /><path d="M745.5 115.0 L746.4 114.5 L747.1 123.5 L746.2 124.0Z" fill="#e8ecfb" /><circle cx="751.5" cy="120.3" r="1.5" fill="#f6c6a3"/><path d="M742.7 99.1 L746.6 99.1 L746.9 103.0 L743.0 102.6Z" fill="#f3bf9c" /><ellipse cx="744.3" cy="96.3" rx="3.1" ry="3.9" fill="#f8d0b3"/><path d="M738.4 92.0 L742.7 88.5 L749.4 90.2 L750.5 95.2 L747.6 97.3 L746.6 93.4 L741.6 93.8 L739.9 95.5Z" fill="#1b2a7a" stroke="#1b2a7a" stroke-width=".8" stroke-linejoin="round"/><circle cx="742.0" cy="96.3" r="1.3" fill="none" stroke="#1b2a7a" stroke-width=".5"/><g transform="matrix(0.2110 0.1130 0.0000 0.3240 289.5 276.5)"><rect x="0" y="0" width="100" height="100" rx="3" fill="#f1f3fc" opacity=".95"/><rect x="22" y="24" width="7" height="28" fill="#b5d6f7"/><rect x="22" y="24" width="7" height="6" fill="#2a2f78"/><rect x="38" y="16" width="7" height="36" fill="#b5d6f7"/><rect x="38" y="16" width="7" height="6" fill="#2a2f78"/><rect x="54" y="26" width="7" height="26" fill="#b5d6f7"/><rect x="54" y="26" width="7" height="6" fill="#2a2f78"/><rect x="70" y="12" width="7" height="40" fill="#b5d6f7"/><rect x="70" y="12" width="7" height="6" fill="#2a2f78"/><rect x="18" y="64" width="22" height="3" fill="#2a2f78"/><rect x="44" y="64" width="20" height="3" fill="#b5d6f7"/><rect x="18" y="74" width="14" height="3" fill="#2a2f78"/><rect x="40" y="74" width="26" height="3" fill="#b5d6f7"/></g><path d="M280.6 306.5 L301.7 317.8 L301.7 319.3 L280.6 308Z" fill="#dfe4f8"/><ellipse cx="256" cy="343" rx="15" ry="6" fill="#c5cbea" opacity=".6" filter="url(#blur1)"/><g transform="translate(256.0 320.0) scale(1.00)"><path d="M-3 -25 C-12 -24 -16 -8 -15 6 C-14 20 -4 26 6 24 C15 22 20 14 18 6 C16 -2 8 -4 7 -12 C6 -20 4 -26 -3 -25Z" fill="url(#gbean)"/><path d="M-3 -24 C-9 -22 -11 -8 -9 2 C-7 10 0 13 7 9 C11 6 11 1 8 -4 C5 -9 6 -16 4 -21 C3 -24 0 -25 -3 -24Z" fill="#d5daf3"/></g><g><path d="M259.6 291.9 L263.3 288.2 L267.7 289.8 L268.8 294.3 L266.6 297.2 L265.3 302.4 L261.4 305.0 L257.5 303.4 L258.5 296.8Z" fill="#f0b24f" stroke="#f0b24f" stroke-width="1" stroke-linejoin="round"/><path d="M278.6 325.9 L280.2 338.9" stroke="#f3bf98" stroke-width="2.3" stroke-linecap="round"/><path d="M273.4 328.0 L277.3 340.7" stroke="#f6caa6" stroke-width="2.6" stroke-linecap="round"/><path d="M274.3 340.7 L278.9 339.4 L280.8 345.2 L277.6 347.1Z" fill="#141b5c" /><path d="M278.9 338.4 L281.5 337.7 L283.1 342.6 L280.8 343.9Z" fill="#141b5c" /><path d="M258.8 302.7 L266.2 297.9 L272.4 300.2 L274.3 307.6 L272.1 316.4 L263.0 318.9 L257.5 309.2Z" fill="#2a95f0" stroke="#2a95f0" stroke-width=".8" stroke-linejoin="round"/><path d="M261.7 318.6 L271.8 321.5 L279.9 319.6 L284.7 322.2 L281.8 330.3 L268.8 332.6 L263.7 325.4Z" fill="#141d5c" stroke="#141d5c" stroke-width=".8" stroke-linejoin="round"/><path d="M272.7 306.0 L271.4 314.1 L267.2 317.7" stroke="#f3bf98" stroke-width="1.9" fill="none" stroke-linecap="round" stroke-linejoin="round"/><path d="M272.1 302.4 L273.1 308.3" stroke="#2a95f0" stroke-width="2.8" stroke-linecap="round"/><path d="M263.7 318.6 L270.1 316.7 L271.1 323.8 L265.3 322.2Z" fill="#e8ecfb" /><path d="M269.5 317.0 L278.2 313.1 L278.7 318.6 L271.1 324.5Z" fill="#1f74e2" /><ellipse cx="265.8" cy="294.3" rx="2.3" ry="2.9" fill="#f8d0b3"/><path d="M261.4 292.7 L263.7 288.5 L267.9 290.1 L268.5 292.7 L265.3 292.4 L263.7 295.9 L262.0 297.6Z" fill="#f0b24f" /></g><path d="M703 521 L716.9 529.5 L740 517 L727 509Z" fill="#f5f7fe"/><g transform="matrix(0.2500 0.1110 0.0000 0.2510 727.2 494.7)"><rect x="0" y="0" width="100" height="100" rx="3" fill="#eef1fc" opacity=".95"/><rect x="4" y="8" width="92" height="1.5" fill="#d4daf2"/><rect x="4" y="15" width="92" height="1.5" fill="#d4daf2"/><rect x="4" y="22" width="92" height="1.5" fill="#d4daf2"/><rect x="4" y="29" width="92" height="1.5" fill="#d4daf2"/><path d="M8 42 L8 26 L18 22 L26 30 L36 24 L46 34 L56 26 L66 36 L76 30 L86 40 L92 38 L92 42 Z" fill="#f1a95b"/><rect x="8.0" y="46.0" width="11" height="11" fill="#141b5c"/><rect x="20.2" y="46.0" width="11" height="11" fill="#3aa5f5"/><rect x="32.4" y="46.0" width="11" height="11" fill="#2a8ff0"/><rect x="44.6" y="46.0" width="11" height="11" fill="#3aa5f5"/><rect x="56.8" y="46.0" width="11" height="11" fill="#1b49b8"/><rect x="69.0" y="46.0" width="11" height="11" fill="#2a8ff0"/><rect x="81.2" y="46.0" width="11" height="11" fill="#141b5c"/><rect x="8.0" y="58.5" width="11" height="11" fill="#2a8ff0"/><rect x="20.2" y="58.5" width="11" height="11" fill="#2a8ff0"/><rect x="32.4" y="58.5" width="11" height="11" fill="#1b49b8"/><rect x="44.6" y="58.5" width="11" height="11" fill="#141b5c"/><rect x="56.8" y="58.5" width="11" height="11" fill="#3aa5f5"/><rect x="69.0" y="58.5" width="11" height="11" fill="#2a8ff0"/><rect x="81.2" y="58.5" width="11" height="11" fill="#141b5c"/></g><path d="M716.6 529.3 L728.6 524.2 L751.5 531.5 L749.3 531.8 L718.6 550.7 L716.6 549.2Z" fill="#f0f2fc" opacity="1"/><path d="M718.3 534.8 L747.8 521.5 L747.8 522.0 L718.3 535.2Z" fill="#d4daf2" opacity="1"/><path d="M718.3 536.8 L747.8 523.6 L747.8 524.0 L718.3 537.3Z" fill="#d4daf2" opacity="1"/><path d="M718.3 538.9 L747.8 525.7 L747.8 526.1 L718.3 539.4Z" fill="#d4daf2" opacity="1"/><path d="M719.1 550.1 L719.1 544.8 L724.2 538.2 L727.2 540.4 L731.6 533.8 L735.3 536.7 L740.4 529.3 L743.4 531.8 L749.3 528.6 L749.3 531.5Z" fill="#f1b06a" opacity="1"/><ellipse cx="690" cy="548" rx="14" ry="5" fill="#c5cbea" opacity=".6" filter="url(#blur1)"/><g transform="translate(688.0 530.0) scale(0.85)"><path d="M-3 -25 C-12 -24 -16 -8 -15 6 C-14 20 -4 26 6 24 C15 22 20 14 18 6 C16 -2 8 -4 7 -12 C6 -20 4 -26 -3 -25Z" fill="url(#gbean)"/><path d="M-3 -24 C-9 -22 -11 -8 -9 2 C-7 10 0 13 7 9 C11 6 11 1 8 -4 C5 -9 6 -16 4 -21 C3 -24 0 -25 -3 -24Z" fill="#d5daf3"/></g><g><path d="M691.6 508.8 L694.6 505.7 L698.2 507.0 L699.2 510.8 L697.3 513.2 L696.2 517.4 L693.0 519.5 L689.9 518.2 L690.7 512.8Z" fill="#eea552" stroke="#eea552" stroke-width="1" stroke-linejoin="round"/><path d="M707.1 536.7 L708.5 547.3" stroke="#f3bf98" stroke-width="1.9" stroke-linecap="round"/><path d="M702.9 538.4 L706.1 548.8" stroke="#f6caa6" stroke-width="2.1" stroke-linecap="round"/><path d="M703.7 548.8 L707.4 547.7 L709.0 552.5 L706.3 554.1Z" fill="#141b5c" /><path d="M707.4 546.9 L709.5 546.4 L710.8 550.4 L709.0 551.4Z" fill="#141b5c" /><path d="M690.9 517.7 L697.0 513.7 L702.1 515.5 L703.7 521.7 L701.8 528.8 L694.4 531.0 L689.9 523.0Z" fill="#e6f3f0" stroke="#e6f3f0" stroke-width=".8" stroke-linejoin="round"/><path d="M693.3 530.7 L701.5 533.1 L708.2 531.5 L712.2 533.6 L709.8 540.3 L699.2 542.1 L694.9 536.3Z" fill="#141d5c" stroke="#141d5c" stroke-width=".8" stroke-linejoin="round"/><path d="M702.3 520.3 L701.3 527.0 L697.8 529.9" stroke="#f3bf98" stroke-width="1.6" fill="none" stroke-linecap="round" stroke-linejoin="round"/><path d="M701.8 517.4 L702.6 522.2" stroke="#e6f3f0" stroke-width="2.3" stroke-linecap="round"/><ellipse cx="696.6" cy="510.8" rx="1.9" ry="2.4" fill="#f8d0b3"/><path d="M693.0 509.4 L694.9 506.0 L698.4 507.3 L698.9 509.4 L696.2 509.2 L694.9 512.1 L693.6 513.4Z" fill="#eea552" /></g><path d="M977.5 486.5 L990.8 479.6 L1003.4 482.5 L1017.9 489.8 L1017.9 493.2 L1004.0 485.9 L990.8 483.2 L980.8 495.8 L977.5 494.7Z" fill="#c9cfea" opacity="1" /><path d="M977.5 486.5 L990.8 479.6 L991.4 488.5 L980.8 495.5Z" fill="#bcc3e3" opacity="1" /><path d="M990.8 479.6 L1003.4 482.5 L1017.9 490.2 L1017.7 493.2 L991.4 488.5Z" fill="#d0d5ee" opacity="1" /><path d="M973.5 498.5 L980.8 494.7 L991.4 488.1 L1017.7 492.5 L1017.9 491.6 L987.4 506.7Z" fill="#d5daf0" opacity="1" /><path d="M973.5 498.5 L987.4 506.7 L1018.2 491.3 L1003.4 483.9 L990.1 488.5 L980.8 495.1Z" fill="#d5daf0" opacity="1" /><path d="M973.5 498.5 L987.4 506.7 L987.4 515.4 L973.5 507.2Z" fill="#b3badd" opacity="1" /><path d="M987.4 506.7 L1018.2 491.3 L1018.2 497.4 L987.4 515.4Z" fill="#c5cbe8" opacity="1" /><path d="M973.5 502.7 L987.4 510.9 L987.4 512.3 L973.5 504.0Z" fill="#35c8f2" opacity="1" /><path d="M987.4 510.9 L1018.2 494.2 L1018.2 495.3 L987.4 512.3Z" fill="url(#gstripe)" opacity="1" /><circle cx="984.8" cy="488.5" r=".8" fill="#9aa3cf"/><circle cx="1004.7" cy="483.9" r=".8" fill="#9aa3cf"/><circle cx="1011.3" cy="487.2" r=".8" fill="#9aa3cf"/><circle cx="980.8" cy="497.8" r=".8" fill="#9aa3cf"/><circle cx="986.8" cy="501.1" r=".8" fill="#9aa3cf"/><path d="M1000.0 477.9 Q994.1 473.9 991.4 479.9 Q990.1 485.9 993.0 487.2 Q995.4 482.5 1000.0 477.9 Z" fill="#141b5c"/><path d="M993.4 487.2 L998.7 485.2 L1000.4 497.8 L994.7 499.8Z" fill="#f3f5fd" opacity="1" /><path d="M993.8 488.5 L993.0 495.1 L998.1 498.5" stroke="#f0906a" stroke-width="1.7" fill="none" stroke-linecap="round" stroke-linejoin="round"/><path d="M998.7 486.5 L1000.0 491.8 L1003.4 494.7" stroke="#f0906a" stroke-width="1.5" fill="none" stroke-linecap="round" stroke-linejoin="round"/><path d="M993.0 498.5 L998.1 497.1 L1000.7 501.1 L997.4 503.8Z" fill="#141b5c" opacity="1" /><path d="M999.4 501.8 L1000.0 509.1" stroke="#eef0fb" stroke-width="2" stroke-linecap="round"/><path d="M1001.4 501.1 L1002.3 508.4" stroke="#e3e7f8" stroke-width="1.8" stroke-linecap="round"/><path d="M997.8 509.3 L1000.7 511.7 L1002.3 510.9 L999.9 508.8Z" fill="#2a3590" opacity="1" /><path d="M1001.0 508.8 L1003.4 510.9 L1004.7 510.1 L1002.6 508.3Z" fill="#2a3590" opacity="1" /><path d="M1000.4 495.5 L1007.3 492.5 L1007.9 498.7 L1001.0 502.2Z" fill="#3d4cab" opacity="1" /><ellipse cx="997.8" cy="481.9" rx="2.6" ry="3" fill="#f4b08c"/><path d="M1000.7 479.9 Q998.1 475.3 993.4 478.6 Q996.1 481.2 1000.7 479.9 Z" fill="#141b5c"/><path d="M1024.3 485.2 L1025.2 482.8 L1027.9 481.9 L1045.8 492.5 L1043.8 514.1 L1024.3 503.5Z" fill="#1f6fe6" opacity="1" stroke="#1f6fe6" stroke-width="1.2" stroke-linejoin="round"/><path d="M1024.3 485.2 L1025.5 482.8 L1026.6 483.2 L1025.4 485.5Z" fill="#9bb8f5" opacity="1" /><path d="M1026.2 485.9 L1043.4 494.7 L1041.8 511.1 L1026.2 502.7Z" fill="url(#gorange)" opacity="1" /><path d="M1033.2 499.8 L1039.2 503.0 L1038.9 506.4 L1033.2 503.5Z" fill="#eef3fc" opacity="1" /><path d="M1034.1 501.4 L1037.8 503.4 L1037.7 505.1 L1034.1 503.2Z" fill="#3a9af0" opacity="1" /><path d="M960.5 336.3 Q963 335 965 336 L988 348.5 Q990 350 990 353 L990 400 Q990 403.5 987.5 403.5 L987.5 352 Z" fill="#b9b5ee"/><g transform="matrix(0.2950 0.1460 0.0000 0.5120 958.0 337.5)"><rect x="0" y="0" width="100" height="100" rx="9" fill="#1f8df2"/><rect x="7" y="5" width="86" height="90" rx="5" fill="#f6f8fe"/><rect x="12" y="84" width="76" height="11" rx="4" fill="#1f8df2"/><rect x="40" y="90" width="20" height="2.5" rx="1.2" fill="#39d2f5"/><path d="M7 78 L7 90 Q7 95 14 95 L50 95 L50 84Z" fill="#1f8df2"/><path d="M22 14 L74 14 L74 44 Q74 58 62 60 Q52 62 50 76 L22 76Z" fill="#e9edfa"/><rect x="18" y="10" width="64" height="4.5" rx="2.2" fill="#1f8df2"/><circle cx="19" cy="12.5" r="3" fill="#1f8df2"/><circle cx="81" cy="12.5" r="3" fill="#1f8df2"/><rect x="26" y="33" width="3.5" height="9" fill="#a9c6ee"/><rect x="31" y="28" width="3.5" height="14" fill="#a9c6ee"/><rect x="36" y="31" width="3.5" height="11" fill="#a9c6ee"/><rect x="24" y="46" width="14" height="3" fill="#3b3f86"/><rect x="48" y="46" width="14" height="3" fill="#3b3f86"/><rect x="24" y="54" width="40" height="1.5" fill="#b9c9ee"/></g></g>
<g id="texts" transform="translate(.3 .2)"><text class="t" x="75.9" y="94.1">投标管理</text>
<text class="b" x="75.9" y="114.6">投标项目信息管理、保证</text>
<text class="b" x="75.9" y="131.6">金退回登记、投标付款管</text>
<text class="b" x="75.9" y="148.4">理</text>
<text class="t" x="308.0" y="93.7">仓库管理</text>
<text class="b" x="307.0" y="114.6">材料出入库、盘点、损坏、报</text>
<text class="b" x="307.0" y="131.6">废、维修等规范化处理</text>
<text class="t" x="558.8" y="57.7">采购管理</text>
<text class="b" x="558.5" y="78.4">采购计划制定、询价、采购合</text>
<text class="b" x="558.5" y="95.2">同、供应商等管理</text>
<text class="t" x="944.6" y="43.5">项目过程管控</text>
<text class="b" x="956.3" y="63.7">项目情况实时汇报、质量安全问</text>
<text class="b" x="956.3" y="80.8">题检查、施工整改、工程文件档</text>
<text class="b" x="956.3" y="97.8">案管理</text>
<text class="t" x="35.3" y="265.9">合同管理</text>
<text class="b" x="34.7" y="286.6">以统一-的业务财务流程，管理好项目</text>
<text class="b" x="34.7" y="304.0">合同、合同变更、收款请款和客户发</text>
<text class="b" x="34.7" y="321.4">票。</text>
<text class="t" x="332.0" y="288.5">发布管理</text>
<text class="b" x="331.8" y="309.1">对接钉钉/企业微信后，系统发</text>
<text class="b" x="331.8" y="326.4">布通知公告,手机可接收并及时</text>
<text class="b" x="331.8" y="343.7">查着</text>
<text class="t" x="688.6" y="303.7">项目管理</text>
<text class="b" x="688.6" y="324.3">项目信息规范化管理、项目计</text>
<text class="b" x="688.6" y="341.4">划制定管理、人员借调、扣分</text>
<text class="b" x="688.6" y="358.1">管理</text>
<text class="t" x="955.7" y="246.6">档案管理</text>
<text class="b" x="956.6" y="267.2">工程竣工档案、人员档案、相关</text>
<text class="b" x="956.6" y="284.0">资质证件档案、人员保险、印章</text>
<text class="b" x="956.6" y="300.8">管理</text>
<text class="t" x="9.7" y="509.2">审批流程</text>
<text class="b" x="8.8" y="529.3">实现付款、费用申请、报销、</text>
<text class="b" x="8.8" y="546.4">用车、用印等审批流程信息化</text>
<text class="b" x="8.8" y="563.7">、规范化</text>
<text class="t" x="244.7" y="478.5">成本动态跟踪与管控</text>
<text class="b" x="244.2" y="499.1">简单直观的方式，实现项目的各项成</text>
<text class="b" x="244.2" y="516.4">本进行动态监督和控制为企业保证项</text>
<text class="b" x="244.2" y="533.7">目盈利。</text>
<text class="t" x="737.8" y="442.9">工程材料管理</text>
<text class="b" x="737.8" y="462.8">关联项目，对项目工程材料进</text>
<text class="b" x="737.8" y="479.8">行录入与管控的管理过程</text>
<text class="t" x="646.2" y="600.7">财务管理</text>
<text class="b" x="645.6" y="622.2">报销、开票、成本核算、人员工</text>
<text class="b" x="645.6" y="639.2">资、各类补贴等相关财务工作规</text>
<text class="b" x="645.6" y="656.3">范化管理</text>
<text class="t" x="891.5" y="575.8">供应商管理</text>
<text class="b" x="890.3" y="595.4">分类建立供应商资料库，根据企</text>
<text class="b" x="890.3" y="612.7">业的实际情况选择信息收集的范</text>
<text class="b" x="890.3" y="630.0">围和信息内容</text>
</g>
</svg>
</body></html>
